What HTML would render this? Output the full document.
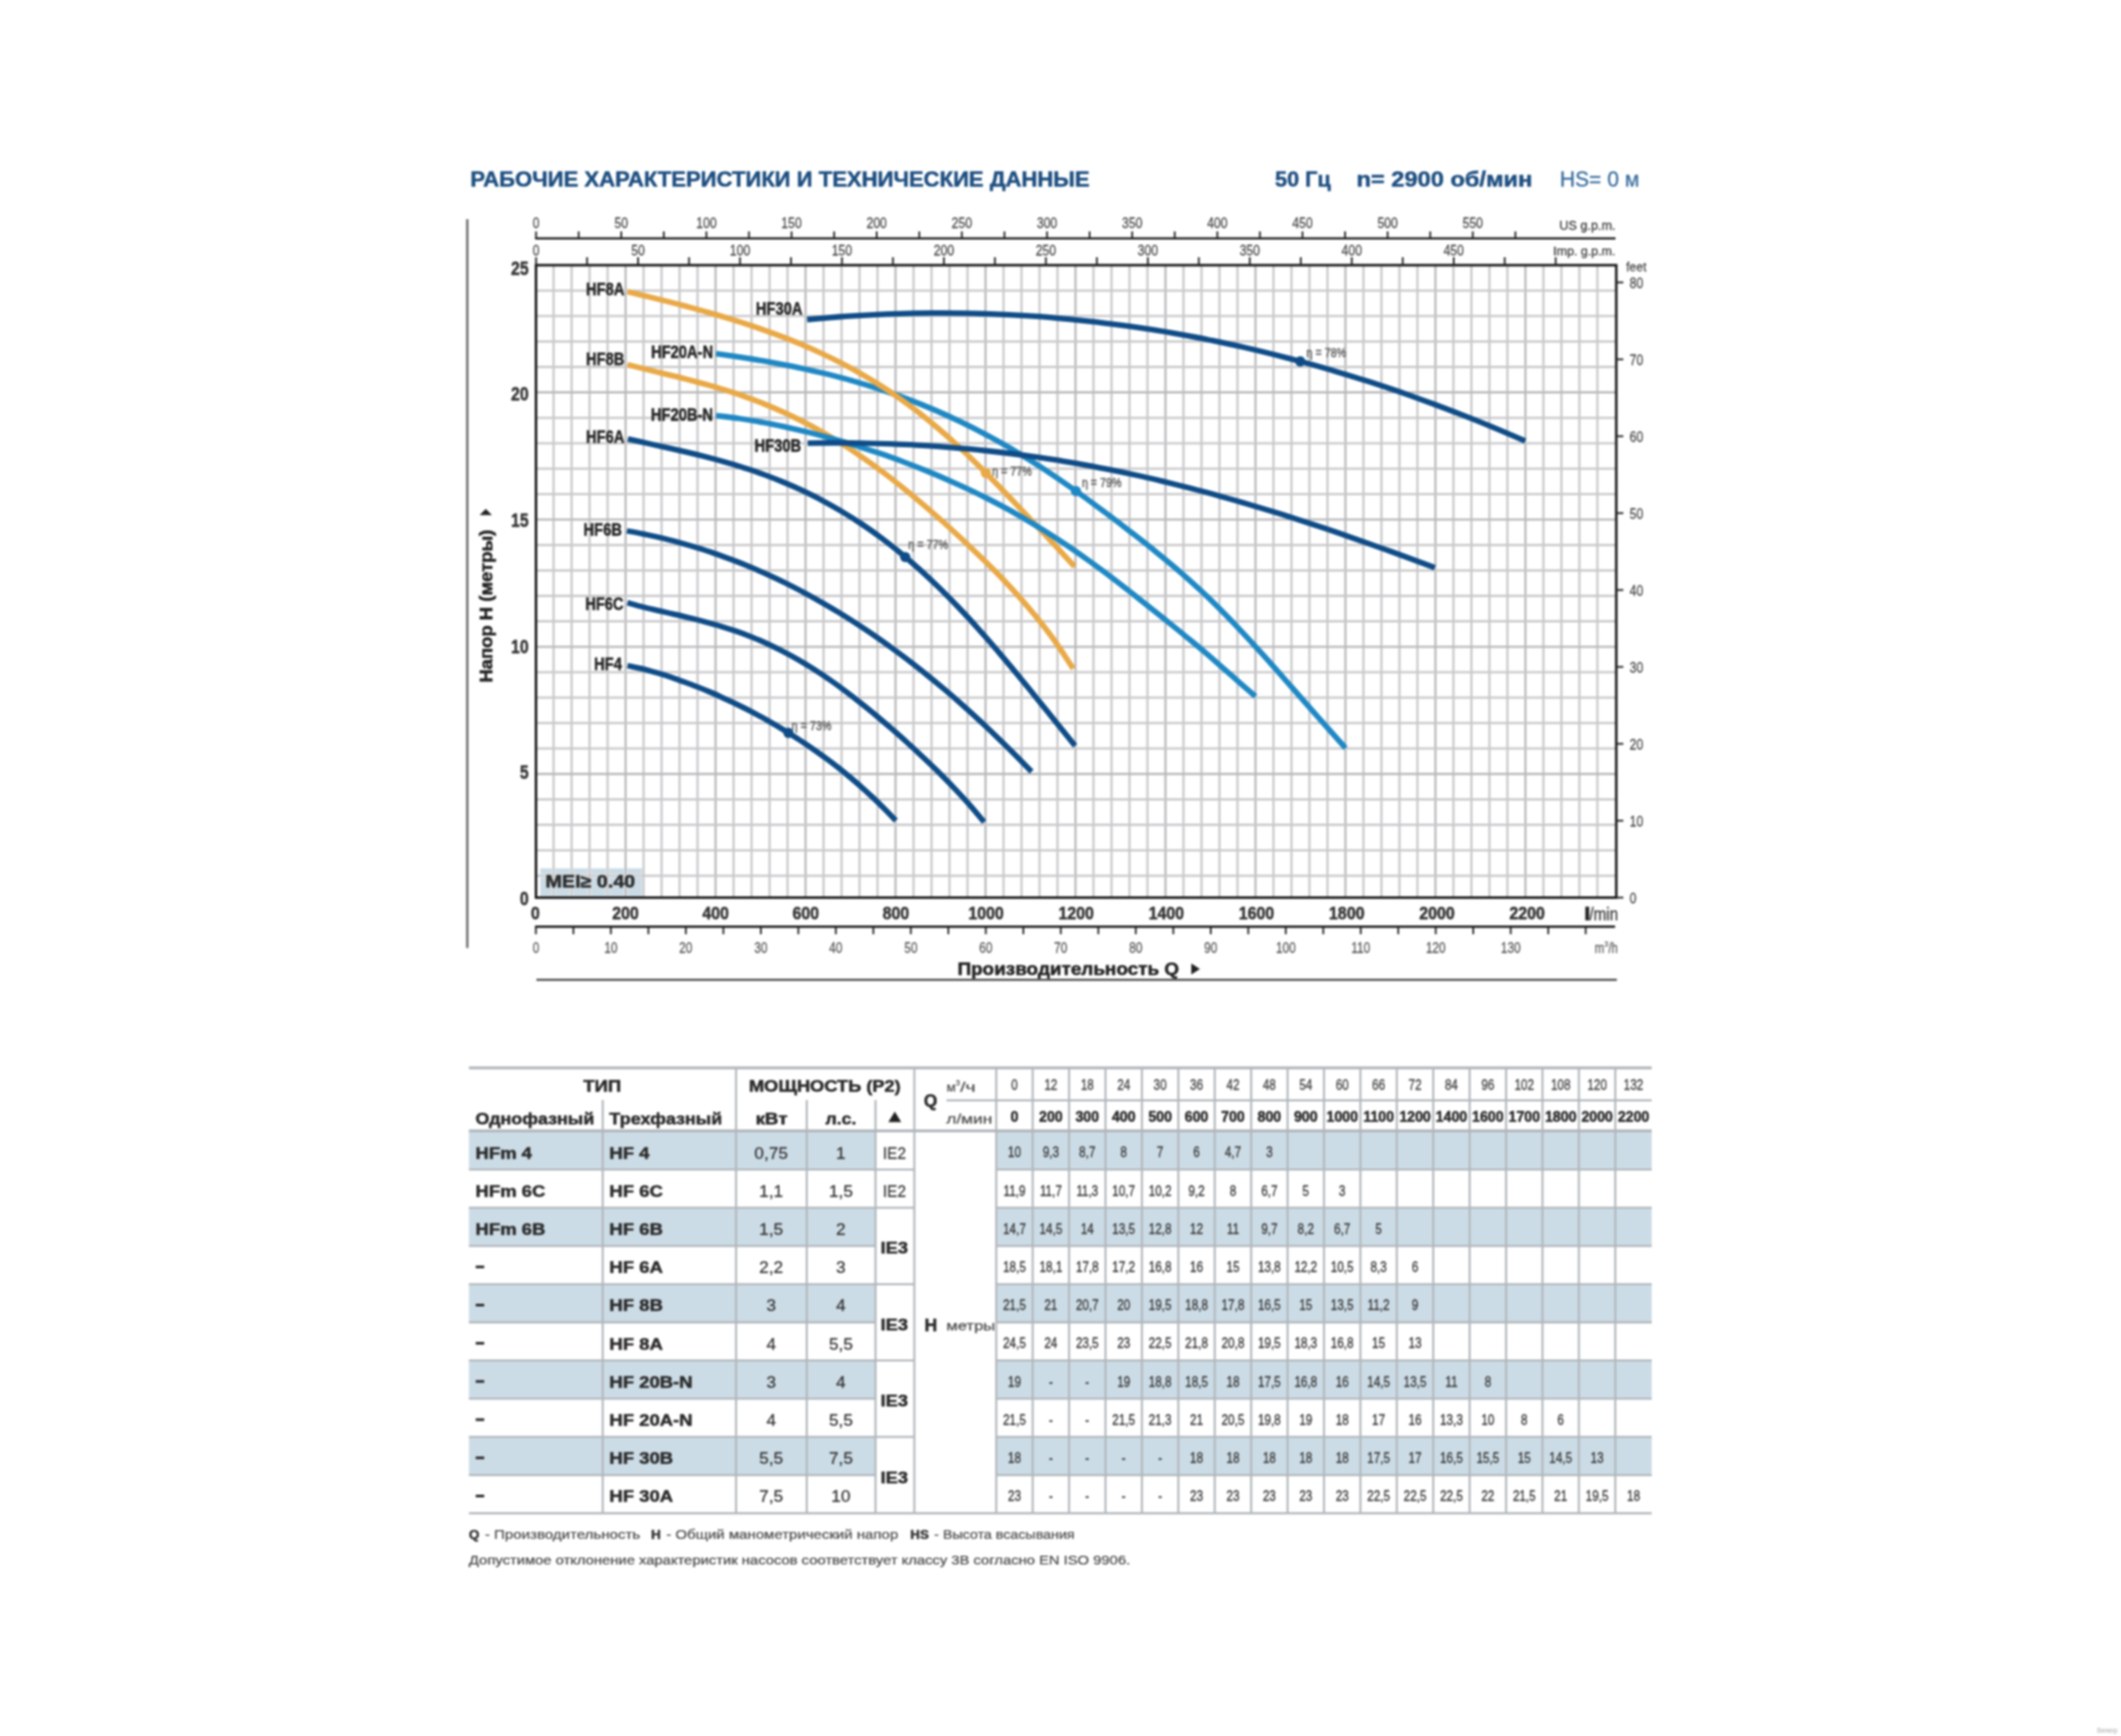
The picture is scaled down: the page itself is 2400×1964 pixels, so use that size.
<!DOCTYPE html>
<html lang="ru"><head><meta charset="utf-8"><title>HF</title>
<style>
html,body{margin:0;padding:0;background:#fff;}
body{width:2400px;height:1964px;overflow:hidden;}
svg{display:block;font-family:"Liberation Sans",sans-serif;}
</style></head><body>
<svg width="2400" height="1964" viewBox="0 0 2400 1964">
<defs><filter id="soft" x="0" y="0" width="4800" height="3928" filterUnits="userSpaceOnUse" color-interpolation-filters="sRGB"><feGaussianBlur stdDeviation="1.6"/></filter></defs>
<rect width="2400" height="1964" fill="#ffffff"/>
<g transform="scale(0.5)"><g filter="url(#soft)"><g transform="scale(2)">
<text transform="translate(532.30,211.20) scale(1.0768,1)" font-size="23.2" font-weight="bold" text-anchor="start" fill="#1d4e80" stroke="#1d4e80" stroke-width="0.55">РАБОЧИЕ ХАРАКТЕРИСТИКИ И ТЕХНИЧЕСКИЕ ДАННЫЕ</text>
<text transform="translate(1442.80,211.20) scale(1.0559,1)" font-size="23.2" font-weight="bold" text-anchor="start" fill="#1d4e80" stroke="#1d4e80" stroke-width="0.55">50 Гц</text>
<text transform="translate(1535.00,211.20) scale(1.1529,1)" font-size="23.2" font-weight="bold" text-anchor="start" fill="#1d4e80" stroke="#1d4e80" stroke-width="0.55">n= 2900 об/мин</text>
<text transform="translate(1765.00,211.20) scale(1.0283,1)" font-size="23.2" text-anchor="start" fill="#33689a" stroke="#33689a" stroke-width="0.25">HS= 0 м</text>
<rect x="611.30" y="982.40" width="117.00" height="32.00" fill="#cbdbe5"/>
<line x1="626.41" y1="300.00" x2="626.41" y2="1015.50" stroke="#f1f1f2" stroke-width="3.4"/>
<line x1="646.78" y1="300.00" x2="646.78" y2="1015.50" stroke="#f1f1f2" stroke-width="3.4"/>
<line x1="667.14" y1="300.00" x2="667.14" y2="1015.50" stroke="#f1f1f2" stroke-width="3.4"/>
<line x1="687.51" y1="300.00" x2="687.51" y2="1015.50" stroke="#f1f1f2" stroke-width="3.4"/>
<line x1="707.87" y1="300.00" x2="707.87" y2="1015.50" stroke="#f1f1f2" stroke-width="3.4"/>
<line x1="728.23" y1="300.00" x2="728.23" y2="1015.50" stroke="#f1f1f2" stroke-width="3.4"/>
<line x1="748.60" y1="300.00" x2="748.60" y2="1015.50" stroke="#f1f1f2" stroke-width="3.4"/>
<line x1="768.96" y1="300.00" x2="768.96" y2="1015.50" stroke="#f1f1f2" stroke-width="3.4"/>
<line x1="789.33" y1="300.00" x2="789.33" y2="1015.50" stroke="#f1f1f2" stroke-width="3.4"/>
<line x1="809.69" y1="300.00" x2="809.69" y2="1015.50" stroke="#f1f1f2" stroke-width="3.4"/>
<line x1="830.05" y1="300.00" x2="830.05" y2="1015.50" stroke="#f1f1f2" stroke-width="3.4"/>
<line x1="850.42" y1="300.00" x2="850.42" y2="1015.50" stroke="#f1f1f2" stroke-width="3.4"/>
<line x1="870.78" y1="300.00" x2="870.78" y2="1015.50" stroke="#f1f1f2" stroke-width="3.4"/>
<line x1="891.15" y1="300.00" x2="891.15" y2="1015.50" stroke="#f1f1f2" stroke-width="3.4"/>
<line x1="911.51" y1="300.00" x2="911.51" y2="1015.50" stroke="#f1f1f2" stroke-width="3.4"/>
<line x1="931.87" y1="300.00" x2="931.87" y2="1015.50" stroke="#f1f1f2" stroke-width="3.4"/>
<line x1="952.24" y1="300.00" x2="952.24" y2="1015.50" stroke="#f1f1f2" stroke-width="3.4"/>
<line x1="972.60" y1="300.00" x2="972.60" y2="1015.50" stroke="#f1f1f2" stroke-width="3.4"/>
<line x1="992.97" y1="300.00" x2="992.97" y2="1015.50" stroke="#f1f1f2" stroke-width="3.4"/>
<line x1="1013.33" y1="300.00" x2="1013.33" y2="1015.50" stroke="#f1f1f2" stroke-width="3.4"/>
<line x1="1033.69" y1="300.00" x2="1033.69" y2="1015.50" stroke="#f1f1f2" stroke-width="3.4"/>
<line x1="1054.06" y1="300.00" x2="1054.06" y2="1015.50" stroke="#f1f1f2" stroke-width="3.4"/>
<line x1="1074.42" y1="300.00" x2="1074.42" y2="1015.50" stroke="#f1f1f2" stroke-width="3.4"/>
<line x1="1094.79" y1="300.00" x2="1094.79" y2="1015.50" stroke="#f1f1f2" stroke-width="3.4"/>
<line x1="1115.15" y1="300.00" x2="1115.15" y2="1015.50" stroke="#f1f1f2" stroke-width="3.4"/>
<line x1="1135.51" y1="300.00" x2="1135.51" y2="1015.50" stroke="#f1f1f2" stroke-width="3.4"/>
<line x1="1155.88" y1="300.00" x2="1155.88" y2="1015.50" stroke="#f1f1f2" stroke-width="3.4"/>
<line x1="1176.24" y1="300.00" x2="1176.24" y2="1015.50" stroke="#f1f1f2" stroke-width="3.4"/>
<line x1="1196.61" y1="300.00" x2="1196.61" y2="1015.50" stroke="#f1f1f2" stroke-width="3.4"/>
<line x1="1216.97" y1="300.00" x2="1216.97" y2="1015.50" stroke="#f1f1f2" stroke-width="3.4"/>
<line x1="1237.33" y1="300.00" x2="1237.33" y2="1015.50" stroke="#f1f1f2" stroke-width="3.4"/>
<line x1="1257.70" y1="300.00" x2="1257.70" y2="1015.50" stroke="#f1f1f2" stroke-width="3.4"/>
<line x1="1278.06" y1="300.00" x2="1278.06" y2="1015.50" stroke="#f1f1f2" stroke-width="3.4"/>
<line x1="1298.43" y1="300.00" x2="1298.43" y2="1015.50" stroke="#f1f1f2" stroke-width="3.4"/>
<line x1="1318.79" y1="300.00" x2="1318.79" y2="1015.50" stroke="#f1f1f2" stroke-width="3.4"/>
<line x1="1339.15" y1="300.00" x2="1339.15" y2="1015.50" stroke="#f1f1f2" stroke-width="3.4"/>
<line x1="1359.52" y1="300.00" x2="1359.52" y2="1015.50" stroke="#f1f1f2" stroke-width="3.4"/>
<line x1="1379.88" y1="300.00" x2="1379.88" y2="1015.50" stroke="#f1f1f2" stroke-width="3.4"/>
<line x1="1400.25" y1="300.00" x2="1400.25" y2="1015.50" stroke="#f1f1f2" stroke-width="3.4"/>
<line x1="1420.61" y1="300.00" x2="1420.61" y2="1015.50" stroke="#f1f1f2" stroke-width="3.4"/>
<line x1="1440.97" y1="300.00" x2="1440.97" y2="1015.50" stroke="#f1f1f2" stroke-width="3.4"/>
<line x1="1461.34" y1="300.00" x2="1461.34" y2="1015.50" stroke="#f1f1f2" stroke-width="3.4"/>
<line x1="1481.70" y1="300.00" x2="1481.70" y2="1015.50" stroke="#f1f1f2" stroke-width="3.4"/>
<line x1="1502.07" y1="300.00" x2="1502.07" y2="1015.50" stroke="#f1f1f2" stroke-width="3.4"/>
<line x1="1522.43" y1="300.00" x2="1522.43" y2="1015.50" stroke="#f1f1f2" stroke-width="3.4"/>
<line x1="1542.79" y1="300.00" x2="1542.79" y2="1015.50" stroke="#f1f1f2" stroke-width="3.4"/>
<line x1="1563.16" y1="300.00" x2="1563.16" y2="1015.50" stroke="#f1f1f2" stroke-width="3.4"/>
<line x1="1583.52" y1="300.00" x2="1583.52" y2="1015.50" stroke="#f1f1f2" stroke-width="3.4"/>
<line x1="1603.89" y1="300.00" x2="1603.89" y2="1015.50" stroke="#f1f1f2" stroke-width="3.4"/>
<line x1="1624.25" y1="300.00" x2="1624.25" y2="1015.50" stroke="#f1f1f2" stroke-width="3.4"/>
<line x1="1644.61" y1="300.00" x2="1644.61" y2="1015.50" stroke="#f1f1f2" stroke-width="3.4"/>
<line x1="1664.98" y1="300.00" x2="1664.98" y2="1015.50" stroke="#f1f1f2" stroke-width="3.4"/>
<line x1="1685.34" y1="300.00" x2="1685.34" y2="1015.50" stroke="#f1f1f2" stroke-width="3.4"/>
<line x1="1705.71" y1="300.00" x2="1705.71" y2="1015.50" stroke="#f1f1f2" stroke-width="3.4"/>
<line x1="1726.07" y1="300.00" x2="1726.07" y2="1015.50" stroke="#f1f1f2" stroke-width="3.4"/>
<line x1="1746.43" y1="300.00" x2="1746.43" y2="1015.50" stroke="#f1f1f2" stroke-width="3.4"/>
<line x1="1766.80" y1="300.00" x2="1766.80" y2="1015.50" stroke="#f1f1f2" stroke-width="3.4"/>
<line x1="1787.16" y1="300.00" x2="1787.16" y2="1015.50" stroke="#f1f1f2" stroke-width="3.4"/>
<line x1="1807.53" y1="300.00" x2="1807.53" y2="1015.50" stroke="#f1f1f2" stroke-width="3.4"/>
<line x1="606.50" y1="990.72" x2="1828.90" y2="990.72" stroke="#f0f0f1" stroke-width="3.4"/>
<line x1="606.50" y1="961.94" x2="1828.90" y2="961.94" stroke="#f0f0f1" stroke-width="3.4"/>
<line x1="606.50" y1="933.16" x2="1828.90" y2="933.16" stroke="#f0f0f1" stroke-width="3.4"/>
<line x1="606.50" y1="904.38" x2="1828.90" y2="904.38" stroke="#f0f0f1" stroke-width="3.4"/>
<line x1="606.50" y1="875.60" x2="1828.90" y2="875.60" stroke="#f0f0f1" stroke-width="3.4"/>
<line x1="606.50" y1="846.82" x2="1828.90" y2="846.82" stroke="#f0f0f1" stroke-width="3.4"/>
<line x1="606.50" y1="818.04" x2="1828.90" y2="818.04" stroke="#f0f0f1" stroke-width="3.4"/>
<line x1="606.50" y1="789.26" x2="1828.90" y2="789.26" stroke="#f0f0f1" stroke-width="3.4"/>
<line x1="606.50" y1="760.48" x2="1828.90" y2="760.48" stroke="#f0f0f1" stroke-width="3.4"/>
<line x1="606.50" y1="731.70" x2="1828.90" y2="731.70" stroke="#f0f0f1" stroke-width="3.4"/>
<line x1="606.50" y1="702.92" x2="1828.90" y2="702.92" stroke="#f0f0f1" stroke-width="3.4"/>
<line x1="606.50" y1="674.14" x2="1828.90" y2="674.14" stroke="#f0f0f1" stroke-width="3.4"/>
<line x1="606.50" y1="645.36" x2="1828.90" y2="645.36" stroke="#f0f0f1" stroke-width="3.4"/>
<line x1="606.50" y1="616.58" x2="1828.90" y2="616.58" stroke="#f0f0f1" stroke-width="3.4"/>
<line x1="606.50" y1="587.80" x2="1828.90" y2="587.80" stroke="#f0f0f1" stroke-width="3.4"/>
<line x1="606.50" y1="559.02" x2="1828.90" y2="559.02" stroke="#f0f0f1" stroke-width="3.4"/>
<line x1="606.50" y1="530.24" x2="1828.90" y2="530.24" stroke="#f0f0f1" stroke-width="3.4"/>
<line x1="606.50" y1="501.46" x2="1828.90" y2="501.46" stroke="#f0f0f1" stroke-width="3.4"/>
<line x1="606.50" y1="472.68" x2="1828.90" y2="472.68" stroke="#f0f0f1" stroke-width="3.4"/>
<line x1="606.50" y1="443.90" x2="1828.90" y2="443.90" stroke="#f0f0f1" stroke-width="3.4"/>
<line x1="606.50" y1="415.12" x2="1828.90" y2="415.12" stroke="#f0f0f1" stroke-width="3.4"/>
<line x1="606.50" y1="386.34" x2="1828.90" y2="386.34" stroke="#f0f0f1" stroke-width="3.4"/>
<line x1="606.50" y1="357.56" x2="1828.90" y2="357.56" stroke="#f0f0f1" stroke-width="3.4"/>
<line x1="606.50" y1="328.78" x2="1828.90" y2="328.78" stroke="#f0f0f1" stroke-width="3.4"/>
<line x1="626.41" y1="300.00" x2="626.41" y2="1015.50" stroke="#c7c7c9" stroke-width="2.1"/>
<line x1="646.78" y1="300.00" x2="646.78" y2="1015.50" stroke="#c7c7c9" stroke-width="2.1"/>
<line x1="667.14" y1="300.00" x2="667.14" y2="1015.50" stroke="#c7c7c9" stroke-width="2.1"/>
<line x1="687.51" y1="300.00" x2="687.51" y2="1015.50" stroke="#c7c7c9" stroke-width="2.1"/>
<line x1="707.87" y1="300.00" x2="707.87" y2="1015.50" stroke="#b6b6b8" stroke-width="2.1"/>
<line x1="728.23" y1="300.00" x2="728.23" y2="1015.50" stroke="#c7c7c9" stroke-width="2.1"/>
<line x1="748.60" y1="300.00" x2="748.60" y2="1015.50" stroke="#c7c7c9" stroke-width="2.1"/>
<line x1="768.96" y1="300.00" x2="768.96" y2="1015.50" stroke="#c7c7c9" stroke-width="2.1"/>
<line x1="789.33" y1="300.00" x2="789.33" y2="1015.50" stroke="#c7c7c9" stroke-width="2.1"/>
<line x1="809.69" y1="300.00" x2="809.69" y2="1015.50" stroke="#b6b6b8" stroke-width="2.1"/>
<line x1="830.05" y1="300.00" x2="830.05" y2="1015.50" stroke="#c7c7c9" stroke-width="2.1"/>
<line x1="850.42" y1="300.00" x2="850.42" y2="1015.50" stroke="#c7c7c9" stroke-width="2.1"/>
<line x1="870.78" y1="300.00" x2="870.78" y2="1015.50" stroke="#c7c7c9" stroke-width="2.1"/>
<line x1="891.15" y1="300.00" x2="891.15" y2="1015.50" stroke="#c7c7c9" stroke-width="2.1"/>
<line x1="911.51" y1="300.00" x2="911.51" y2="1015.50" stroke="#b6b6b8" stroke-width="2.1"/>
<line x1="931.87" y1="300.00" x2="931.87" y2="1015.50" stroke="#c7c7c9" stroke-width="2.1"/>
<line x1="952.24" y1="300.00" x2="952.24" y2="1015.50" stroke="#c7c7c9" stroke-width="2.1"/>
<line x1="972.60" y1="300.00" x2="972.60" y2="1015.50" stroke="#c7c7c9" stroke-width="2.1"/>
<line x1="992.97" y1="300.00" x2="992.97" y2="1015.50" stroke="#c7c7c9" stroke-width="2.1"/>
<line x1="1013.33" y1="300.00" x2="1013.33" y2="1015.50" stroke="#b6b6b8" stroke-width="2.1"/>
<line x1="1033.69" y1="300.00" x2="1033.69" y2="1015.50" stroke="#c7c7c9" stroke-width="2.1"/>
<line x1="1054.06" y1="300.00" x2="1054.06" y2="1015.50" stroke="#c7c7c9" stroke-width="2.1"/>
<line x1="1074.42" y1="300.00" x2="1074.42" y2="1015.50" stroke="#c7c7c9" stroke-width="2.1"/>
<line x1="1094.79" y1="300.00" x2="1094.79" y2="1015.50" stroke="#c7c7c9" stroke-width="2.1"/>
<line x1="1115.15" y1="300.00" x2="1115.15" y2="1015.50" stroke="#b6b6b8" stroke-width="2.1"/>
<line x1="1135.51" y1="300.00" x2="1135.51" y2="1015.50" stroke="#c7c7c9" stroke-width="2.1"/>
<line x1="1155.88" y1="300.00" x2="1155.88" y2="1015.50" stroke="#c7c7c9" stroke-width="2.1"/>
<line x1="1176.24" y1="300.00" x2="1176.24" y2="1015.50" stroke="#c7c7c9" stroke-width="2.1"/>
<line x1="1196.61" y1="300.00" x2="1196.61" y2="1015.50" stroke="#c7c7c9" stroke-width="2.1"/>
<line x1="1216.97" y1="300.00" x2="1216.97" y2="1015.50" stroke="#b6b6b8" stroke-width="2.1"/>
<line x1="1237.33" y1="300.00" x2="1237.33" y2="1015.50" stroke="#c7c7c9" stroke-width="2.1"/>
<line x1="1257.70" y1="300.00" x2="1257.70" y2="1015.50" stroke="#c7c7c9" stroke-width="2.1"/>
<line x1="1278.06" y1="300.00" x2="1278.06" y2="1015.50" stroke="#c7c7c9" stroke-width="2.1"/>
<line x1="1298.43" y1="300.00" x2="1298.43" y2="1015.50" stroke="#c7c7c9" stroke-width="2.1"/>
<line x1="1318.79" y1="300.00" x2="1318.79" y2="1015.50" stroke="#b6b6b8" stroke-width="2.1"/>
<line x1="1339.15" y1="300.00" x2="1339.15" y2="1015.50" stroke="#c7c7c9" stroke-width="2.1"/>
<line x1="1359.52" y1="300.00" x2="1359.52" y2="1015.50" stroke="#c7c7c9" stroke-width="2.1"/>
<line x1="1379.88" y1="300.00" x2="1379.88" y2="1015.50" stroke="#c7c7c9" stroke-width="2.1"/>
<line x1="1400.25" y1="300.00" x2="1400.25" y2="1015.50" stroke="#c7c7c9" stroke-width="2.1"/>
<line x1="1420.61" y1="300.00" x2="1420.61" y2="1015.50" stroke="#b6b6b8" stroke-width="2.1"/>
<line x1="1440.97" y1="300.00" x2="1440.97" y2="1015.50" stroke="#c7c7c9" stroke-width="2.1"/>
<line x1="1461.34" y1="300.00" x2="1461.34" y2="1015.50" stroke="#c7c7c9" stroke-width="2.1"/>
<line x1="1481.70" y1="300.00" x2="1481.70" y2="1015.50" stroke="#c7c7c9" stroke-width="2.1"/>
<line x1="1502.07" y1="300.00" x2="1502.07" y2="1015.50" stroke="#c7c7c9" stroke-width="2.1"/>
<line x1="1522.43" y1="300.00" x2="1522.43" y2="1015.50" stroke="#b6b6b8" stroke-width="2.1"/>
<line x1="1542.79" y1="300.00" x2="1542.79" y2="1015.50" stroke="#c7c7c9" stroke-width="2.1"/>
<line x1="1563.16" y1="300.00" x2="1563.16" y2="1015.50" stroke="#c7c7c9" stroke-width="2.1"/>
<line x1="1583.52" y1="300.00" x2="1583.52" y2="1015.50" stroke="#c7c7c9" stroke-width="2.1"/>
<line x1="1603.89" y1="300.00" x2="1603.89" y2="1015.50" stroke="#c7c7c9" stroke-width="2.1"/>
<line x1="1624.25" y1="300.00" x2="1624.25" y2="1015.50" stroke="#b6b6b8" stroke-width="2.1"/>
<line x1="1644.61" y1="300.00" x2="1644.61" y2="1015.50" stroke="#c7c7c9" stroke-width="2.1"/>
<line x1="1664.98" y1="300.00" x2="1664.98" y2="1015.50" stroke="#c7c7c9" stroke-width="2.1"/>
<line x1="1685.34" y1="300.00" x2="1685.34" y2="1015.50" stroke="#c7c7c9" stroke-width="2.1"/>
<line x1="1705.71" y1="300.00" x2="1705.71" y2="1015.50" stroke="#c7c7c9" stroke-width="2.1"/>
<line x1="1726.07" y1="300.00" x2="1726.07" y2="1015.50" stroke="#b6b6b8" stroke-width="2.1"/>
<line x1="1746.43" y1="300.00" x2="1746.43" y2="1015.50" stroke="#c7c7c9" stroke-width="2.1"/>
<line x1="1766.80" y1="300.00" x2="1766.80" y2="1015.50" stroke="#c7c7c9" stroke-width="2.1"/>
<line x1="1787.16" y1="300.00" x2="1787.16" y2="1015.50" stroke="#c7c7c9" stroke-width="2.1"/>
<line x1="1807.53" y1="300.00" x2="1807.53" y2="1015.50" stroke="#c7c7c9" stroke-width="2.1"/>
<line x1="606.50" y1="990.72" x2="1828.90" y2="990.72" stroke="#c7c7c9" stroke-width="2.1"/>
<line x1="606.50" y1="961.94" x2="1828.90" y2="961.94" stroke="#c7c7c9" stroke-width="2.1"/>
<line x1="606.50" y1="933.16" x2="1828.90" y2="933.16" stroke="#c7c7c9" stroke-width="2.1"/>
<line x1="606.50" y1="904.38" x2="1828.90" y2="904.38" stroke="#c7c7c9" stroke-width="2.1"/>
<line x1="606.50" y1="875.60" x2="1828.90" y2="875.60" stroke="#b6b6b8" stroke-width="2.1"/>
<line x1="606.50" y1="846.82" x2="1828.90" y2="846.82" stroke="#c7c7c9" stroke-width="2.1"/>
<line x1="606.50" y1="818.04" x2="1828.90" y2="818.04" stroke="#c7c7c9" stroke-width="2.1"/>
<line x1="606.50" y1="789.26" x2="1828.90" y2="789.26" stroke="#c7c7c9" stroke-width="2.1"/>
<line x1="606.50" y1="760.48" x2="1828.90" y2="760.48" stroke="#c7c7c9" stroke-width="2.1"/>
<line x1="606.50" y1="731.70" x2="1828.90" y2="731.70" stroke="#b6b6b8" stroke-width="2.1"/>
<line x1="606.50" y1="702.92" x2="1828.90" y2="702.92" stroke="#c7c7c9" stroke-width="2.1"/>
<line x1="606.50" y1="674.14" x2="1828.90" y2="674.14" stroke="#c7c7c9" stroke-width="2.1"/>
<line x1="606.50" y1="645.36" x2="1828.90" y2="645.36" stroke="#c7c7c9" stroke-width="2.1"/>
<line x1="606.50" y1="616.58" x2="1828.90" y2="616.58" stroke="#c7c7c9" stroke-width="2.1"/>
<line x1="606.50" y1="587.80" x2="1828.90" y2="587.80" stroke="#b6b6b8" stroke-width="2.1"/>
<line x1="606.50" y1="559.02" x2="1828.90" y2="559.02" stroke="#c7c7c9" stroke-width="2.1"/>
<line x1="606.50" y1="530.24" x2="1828.90" y2="530.24" stroke="#c7c7c9" stroke-width="2.1"/>
<line x1="606.50" y1="501.46" x2="1828.90" y2="501.46" stroke="#c7c7c9" stroke-width="2.1"/>
<line x1="606.50" y1="472.68" x2="1828.90" y2="472.68" stroke="#c7c7c9" stroke-width="2.1"/>
<line x1="606.50" y1="443.90" x2="1828.90" y2="443.90" stroke="#b6b6b8" stroke-width="2.1"/>
<line x1="606.50" y1="415.12" x2="1828.90" y2="415.12" stroke="#c7c7c9" stroke-width="2.1"/>
<line x1="606.50" y1="386.34" x2="1828.90" y2="386.34" stroke="#c7c7c9" stroke-width="2.1"/>
<line x1="606.50" y1="357.56" x2="1828.90" y2="357.56" stroke="#c7c7c9" stroke-width="2.1"/>
<line x1="606.50" y1="328.78" x2="1828.90" y2="328.78" stroke="#c7c7c9" stroke-width="2.1"/>
<text transform="translate(617.30,1004.30) scale(1.1152,1)" font-size="20" font-weight="bold" text-anchor="start" fill="#2b2b2b" stroke="#2b2b2b" stroke-width="0.55">MEI≥ 0.40</text>
<path d="M810.2,400.2C815.4,400.9 830.9,403.1 841.2,404.7C851.5,406.3 861.8,407.9 872.1,409.8C882.4,411.7 892.8,413.6 903.1,415.8C913.4,418.0 923.8,420.3 934.1,422.8C944.4,425.3 954.8,428.1 965.1,431.0C975.4,433.9 985.7,437.1 996.0,440.5C1006.3,443.9 1016.7,447.6 1027.0,451.5C1037.3,455.4 1047.7,459.6 1058.0,464.0C1068.3,468.4 1078.7,473.2 1089.0,478.2C1099.3,483.2 1109.6,488.5 1119.9,494.1C1130.2,499.7 1140.6,505.5 1150.9,511.7C1161.2,517.9 1171.6,524.3 1181.9,531.1C1192.2,537.9 1202.6,545.0 1212.9,552.3C1223.2,559.6 1233.5,567.1 1243.8,574.8C1254.1,582.4 1264.5,590.2 1274.8,598.2C1285.1,606.2 1295.5,614.1 1305.8,622.5C1316.1,630.9 1326.5,639.3 1336.8,648.3C1347.1,657.3 1357.4,666.6 1367.7,676.5C1378.0,686.4 1388.4,697.0 1398.7,707.8C1409.0,718.6 1419.4,730.0 1429.7,741.4C1440.0,752.8 1450.4,764.7 1460.7,776.4C1471.0,788.1 1481.3,799.8 1491.6,811.5C1501.9,823.2 1517.4,840.6 1522.6,846.4" fill="none" stroke="#1f88c4" stroke-width="6.3"/>
<path d="M710.0,330.0C713.7,330.9 724.7,333.5 732.0,335.3C739.3,337.1 746.7,338.9 754.0,340.7C761.3,342.5 768.7,344.4 776.0,346.4C783.3,348.4 790.7,350.4 798.0,352.5C805.3,354.6 812.7,356.7 820.0,358.9C827.3,361.1 834.7,363.3 842.0,365.7C849.3,368.1 856.7,370.6 864.0,373.2C871.3,375.8 878.7,378.5 886.0,381.3C893.3,384.1 900.7,387.1 908.0,390.2C915.3,393.3 922.7,396.6 930.0,400.0C937.3,403.4 944.7,407.0 952.0,410.8C959.3,414.6 966.7,418.6 974.0,422.8C981.3,427.0 988.7,431.4 996.0,436.0C1003.3,440.6 1010.7,445.5 1018.0,450.7C1025.3,455.9 1032.7,461.3 1040.0,467.0C1047.3,472.7 1054.7,478.8 1062.0,485.0C1069.3,491.2 1076.7,497.8 1084.0,504.5C1091.3,511.2 1098.7,518.3 1106.0,525.5C1113.3,532.7 1120.7,540.2 1128.0,547.7C1135.3,555.2 1142.7,562.9 1150.0,570.6C1157.3,578.3 1164.7,586.0 1172.0,593.8C1179.3,601.6 1186.7,609.3 1194.0,617.2C1201.3,625.1 1212.3,637.0 1216.0,641.0" fill="none" stroke="#e9a947" stroke-width="6.3"/>
<path d="M710.0,412.5C713.6,413.4 724.6,416.2 731.9,418.0C739.2,419.8 746.6,421.6 753.9,423.4C761.2,425.2 768.5,426.9 775.8,428.8C783.1,430.7 790.4,432.6 797.7,434.6C805.0,436.7 812.4,438.8 819.7,441.1C827.0,443.4 834.3,445.7 841.6,448.3C848.9,450.9 856.2,453.6 863.5,456.5C870.8,459.4 878.2,462.6 885.5,465.9C892.8,469.2 900.1,472.7 907.4,476.4C914.7,480.1 922.0,484.1 929.3,488.2C936.6,492.3 944.0,496.6 951.3,501.2C958.6,505.8 965.9,510.6 973.2,515.6C980.5,520.6 987.9,525.9 995.2,531.3C1002.5,536.7 1009.8,542.3 1017.1,548.1C1024.4,553.9 1031.7,560.0 1039.0,566.1C1046.3,572.2 1053.7,578.6 1061.0,585.0C1068.3,591.4 1075.6,598.0 1082.9,604.7C1090.2,611.4 1097.5,618.4 1104.8,625.4C1112.1,632.4 1119.5,639.5 1126.8,647.0C1134.1,654.5 1141.4,662.1 1148.7,670.2C1156.0,678.3 1163.3,686.7 1170.6,695.6C1177.9,704.5 1185.3,713.8 1192.6,723.9C1199.9,734.0 1210.8,751.1 1214.5,756.5" fill="none" stroke="#e9a947" stroke-width="6.3"/>
<path d="M810.2,470.1C814.6,470.7 827.9,472.2 836.7,473.5C845.6,474.8 854.4,476.3 863.3,477.9C872.1,479.5 880.9,481.4 889.8,483.3C898.6,485.2 907.5,487.3 916.4,489.5C925.2,491.7 934.1,494.1 942.9,496.6C951.7,499.1 960.5,501.6 969.4,504.4C978.2,507.1 987.1,510.1 996.0,513.1C1004.9,516.1 1013.6,519.3 1022.5,522.6C1031.3,525.9 1040.2,529.4 1049.1,533.0C1057.9,536.6 1066.8,540.4 1075.6,544.3C1084.4,548.2 1093.2,552.2 1102.1,556.5C1110.9,560.8 1119.8,565.2 1128.7,569.9C1137.6,574.5 1146.4,579.3 1155.2,584.4C1164.0,589.5 1172.9,594.8 1181.7,600.3C1190.5,605.8 1199.5,611.6 1208.3,617.6C1217.1,623.6 1225.9,629.8 1234.8,636.2C1243.7,642.6 1252.6,649.2 1261.4,656.0C1270.2,662.8 1279.1,669.7 1287.9,676.7C1296.7,683.7 1305.6,690.7 1314.4,697.8C1323.2,704.9 1332.2,712.0 1341.0,719.3C1349.8,726.6 1358.7,733.8 1367.5,741.4C1376.3,749.0 1385.2,757.0 1394.1,764.7C1402.9,772.5 1416.2,784.0 1420.6,787.9" fill="none" stroke="#1f88c4" stroke-width="6.3"/>
<path d="M913.3,361.5C919.2,361.0 936.8,359.4 948.6,358.5C960.4,357.6 972.2,356.9 984.0,356.3C995.8,355.7 1007.5,355.2 1019.3,354.9C1031.1,354.5 1042.8,354.3 1054.6,354.2C1066.4,354.1 1078.1,354.2 1089.9,354.4C1101.7,354.6 1113.5,354.9 1125.3,355.4C1137.1,355.9 1148.8,356.5 1160.6,357.2C1172.4,357.9 1184.1,358.8 1195.9,359.8C1207.7,360.8 1219.4,362.0 1231.2,363.3C1243.0,364.6 1254.8,366.0 1266.6,367.6C1278.4,369.2 1290.1,370.9 1301.9,372.7C1313.7,374.5 1325.4,376.5 1337.2,378.6C1349.0,380.7 1360.7,383.0 1372.5,385.4C1384.3,387.8 1396.1,390.3 1407.9,393.0C1419.7,395.7 1431.4,398.5 1443.2,401.5C1455.0,404.5 1466.7,407.6 1478.5,410.8C1490.3,414.0 1502.0,417.4 1513.8,420.9C1525.6,424.4 1537.4,428.0 1549.2,431.8C1561.0,435.6 1572.7,439.5 1584.5,443.6C1596.3,447.7 1608.0,451.9 1619.8,456.2C1631.6,460.5 1643.3,465.0 1655.1,469.6C1666.9,474.2 1678.7,478.9 1690.5,483.8C1702.3,488.7 1719.9,496.3 1725.8,498.8" fill="none" stroke="#0f4c87" stroke-width="6.3"/>
<path d="M913.9,501.3C919.0,501.2 934.5,501.0 944.8,501.0C955.1,501.0 965.3,501.1 975.6,501.3C985.9,501.5 996.2,501.8 1006.5,502.2C1016.8,502.6 1027.0,503.0 1037.3,503.6C1047.6,504.2 1057.9,504.8 1068.2,505.6C1078.5,506.4 1088.7,507.2 1099.0,508.2C1109.3,509.2 1119.6,510.3 1129.9,511.5C1140.2,512.7 1150.4,514.0 1160.7,515.4C1171.0,516.8 1181.3,518.3 1191.6,519.9C1201.9,521.5 1212.1,523.3 1222.4,525.1C1232.7,526.9 1243.0,528.9 1253.3,530.9C1263.6,532.9 1273.8,535.0 1284.1,537.3C1294.4,539.5 1304.7,541.9 1315.0,544.4C1325.3,546.9 1335.5,549.4 1345.8,552.0C1356.1,554.6 1366.4,557.4 1376.7,560.2C1387.0,563.0 1397.2,566.0 1407.5,569.0C1417.8,572.0 1428.1,575.1 1438.4,578.2C1448.7,581.4 1458.9,584.6 1469.2,587.9C1479.5,591.2 1489.8,594.6 1500.1,598.1C1510.4,601.6 1520.6,605.1 1530.9,608.7C1541.2,612.3 1551.5,615.9 1561.8,619.6C1572.1,623.3 1582.3,627.0 1592.6,630.8C1602.9,634.6 1618.3,640.3 1623.5,642.2" fill="none" stroke="#0f4c87" stroke-width="6.3"/>
<path d="M710.4,496.6C714.1,497.4 725.1,499.9 732.4,501.5C739.7,503.1 747.1,504.8 754.4,506.4C761.7,508.0 769.1,509.7 776.4,511.4C783.7,513.1 791.1,514.9 798.4,516.8C805.7,518.7 813.1,520.7 820.4,522.8C827.7,524.9 835.1,527.0 842.4,529.4C849.7,531.8 857.1,534.2 864.4,536.9C871.7,539.6 879.1,542.5 886.4,545.5C893.7,548.5 901.1,551.8 908.4,555.2C915.7,558.7 923.1,562.3 930.4,566.2C937.7,570.1 945.0,574.2 952.4,578.6C959.8,583.0 967.1,587.6 974.5,592.5C981.9,597.4 989.2,602.5 996.5,608.0C1003.8,613.5 1011.2,619.2 1018.5,625.2C1025.8,631.2 1033.2,637.5 1040.5,644.1C1047.8,650.7 1055.2,657.6 1062.5,664.7C1069.8,671.9 1077.2,679.3 1084.5,687.0C1091.8,694.7 1099.2,702.6 1106.5,710.8C1113.8,719.0 1121.2,727.4 1128.5,736.0C1135.8,744.6 1143.2,753.3 1150.5,762.2C1157.8,771.1 1165.2,780.2 1172.5,789.2C1179.8,798.2 1187.2,807.4 1194.5,816.5C1201.8,825.6 1212.8,839.2 1216.5,843.7" fill="none" stroke="#0f4c87" stroke-width="6.3"/>
<path d="M709.4,600.6C712.7,601.2 722.7,603.0 729.3,604.4C735.9,605.8 742.6,607.2 749.2,608.8C755.8,610.4 762.5,612.2 769.1,614.0C775.7,615.8 782.4,617.7 789.0,619.7C795.6,621.7 802.2,623.9 808.9,626.2C815.5,628.5 822.2,631.0 828.9,633.5C835.5,636.0 842.2,638.6 848.8,641.4C855.4,644.2 862.1,647.1 868.7,650.1C875.3,653.1 882.0,656.2 888.6,659.5C895.2,662.8 901.9,666.2 908.5,669.7C915.1,673.2 921.8,676.9 928.4,680.7C935.0,684.5 941.7,688.4 948.3,692.4C954.9,696.4 961.6,700.6 968.2,704.9C974.8,709.2 981.5,713.6 988.1,718.2C994.7,722.8 1001.4,727.5 1008.0,732.3C1014.6,737.1 1021.3,742.0 1027.9,747.1C1034.5,752.2 1041.2,757.4 1047.8,762.8C1054.4,768.1 1061.1,773.6 1067.8,779.2C1074.5,784.8 1081.1,790.5 1087.7,796.4C1094.3,802.3 1101.0,808.3 1107.6,814.4C1114.2,820.5 1120.9,826.8 1127.5,833.2C1134.1,839.6 1140.8,846.1 1147.4,852.7C1154.0,859.3 1164.0,869.6 1167.3,873.0" fill="none" stroke="#0f4c87" stroke-width="6.3"/>
<path d="M710.0,681.9C712.9,682.7 721.6,685.2 727.5,686.7C733.4,688.2 739.2,689.5 745.1,690.9C751.0,692.3 756.8,693.5 762.6,694.9C768.5,696.2 774.4,697.6 780.2,699.0C786.1,700.4 791.9,701.9 797.7,703.5C803.6,705.1 809.4,706.6 815.3,708.4C821.1,710.2 826.9,712.1 832.8,714.1C838.6,716.1 844.5,718.3 850.4,720.6C856.2,722.9 862.0,725.4 867.9,728.1C873.8,730.8 879.6,733.7 885.5,736.7C891.4,739.7 897.1,742.8 903.0,746.2C908.9,749.6 914.8,753.2 920.6,756.9C926.5,760.6 932.2,764.5 938.1,768.5C944.0,772.5 949.9,776.8 955.7,781.2C961.6,785.6 967.4,790.1 973.2,794.7C979.1,799.3 984.9,804.1 990.8,809.0C996.6,813.9 1002.4,818.8 1008.3,823.9C1014.1,829.0 1020.1,834.2 1025.9,839.5C1031.8,844.8 1037.6,850.2 1043.4,855.7C1049.2,861.2 1055.2,866.8 1061.0,872.6C1066.8,878.4 1072.7,884.3 1078.5,890.4C1084.3,896.5 1090.2,902.8 1096.1,909.4C1101.9,916.0 1110.7,926.6 1113.6,930.0" fill="none" stroke="#0f4c87" stroke-width="6.3"/>
<path d="M710.0,753.0C712.2,753.5 718.8,754.9 723.2,755.9C727.6,756.9 732.0,758.1 736.4,759.3C740.8,760.5 745.2,761.8 749.6,763.1C754.0,764.5 758.4,765.9 762.8,767.4C767.2,768.9 771.6,770.5 776.0,772.1C780.4,773.7 784.8,775.4 789.2,777.1C793.6,778.8 798.0,780.6 802.4,782.5C806.8,784.4 811.2,786.3 815.6,788.3C820.0,790.3 824.4,792.3 828.8,794.4C833.2,796.5 837.6,798.7 842.0,800.9C846.4,803.1 850.8,805.4 855.2,807.8C859.6,810.1 864.1,812.5 868.5,815.0C872.9,817.5 877.3,820.1 881.7,822.7C886.1,825.3 890.5,828.0 894.9,830.8C899.3,833.6 903.7,836.4 908.1,839.3C912.5,842.2 916.9,845.2 921.3,848.3C925.7,851.4 930.1,854.5 934.5,857.8C938.9,861.0 943.3,864.3 947.7,867.8C952.1,871.2 956.5,874.8 960.9,878.5C965.3,882.2 969.7,885.9 974.1,889.8C978.5,893.7 982.9,897.8 987.3,901.9C991.7,906.0 996.1,910.3 1000.5,914.7C1004.9,919.1 1011.5,926.1 1013.7,928.4" fill="none" stroke="#0f4c87" stroke-width="6.3"/>
<circle cx="1471.3" cy="408.9" r="5.8" fill="#0f4c87"/>
<text transform="translate(1478.30,404.20) scale(0.8394,1)" font-size="14.5" text-anchor="start" fill="#5a5a5a" stroke="#5a5a5a" stroke-width="0.45">η = 78%</text>
<circle cx="1217.5" cy="555.6" r="5.8" fill="#1f88c4"/>
<text transform="translate(1224.20,551.40) scale(0.8394,1)" font-size="14.5" text-anchor="start" fill="#5a5a5a" stroke="#5a5a5a" stroke-width="0.45">η = 79%</text>
<circle cx="1115.6" cy="535.2" r="5.8" fill="#e9a947"/>
<text transform="translate(1122.70,537.80) scale(0.8394,1)" font-size="14.5" text-anchor="start" fill="#5a5a5a" stroke="#5a5a5a" stroke-width="0.45">η = 77%</text>
<circle cx="1024.3" cy="630.2" r="5.8" fill="#0f4c87"/>
<text transform="translate(1027.80,621.20) scale(0.8394,1)" font-size="14.5" text-anchor="start" fill="#5a5a5a" stroke="#5a5a5a" stroke-width="0.45">η = 77%</text>
<circle cx="892.1" cy="829.1" r="5.8" fill="#0f4c87"/>
<text transform="translate(895.80,825.90) scale(0.8394,1)" font-size="14.5" text-anchor="start" fill="#5a5a5a" stroke="#5a5a5a" stroke-width="0.45">η = 73%</text>
<text transform="translate(706.50,334.00) scale(0.8450,1)" font-size="19.7" font-weight="bold" text-anchor="end" fill="#262626" stroke="#262626" stroke-width="0.55">HF8A</text>
<text transform="translate(706.50,413.00) scale(0.8450,1)" font-size="19.7" font-weight="bold" text-anchor="end" fill="#262626" stroke="#262626" stroke-width="0.55">HF8B</text>
<text transform="translate(706.50,500.70) scale(0.8450,1)" font-size="19.7" font-weight="bold" text-anchor="end" fill="#262626" stroke="#262626" stroke-width="0.55">HF6A</text>
<text transform="translate(703.70,606.00) scale(0.8450,1)" font-size="19.7" font-weight="bold" text-anchor="end" fill="#262626" stroke="#262626" stroke-width="0.55">HF6B</text>
<text transform="translate(705.60,689.70) scale(0.8450,1)" font-size="19.7" font-weight="bold" text-anchor="end" fill="#262626" stroke="#262626" stroke-width="0.55">HF6C</text>
<text transform="translate(703.70,758.00) scale(0.8450,1)" font-size="19.7" font-weight="bold" text-anchor="end" fill="#262626" stroke="#262626" stroke-width="0.55">HF4</text>
<text transform="translate(806.90,405.30) scale(0.8450,1)" font-size="19.7" font-weight="bold" text-anchor="end" fill="#262626" stroke="#262626" stroke-width="0.55">HF20A-N</text>
<text transform="translate(806.70,476.00) scale(0.8450,1)" font-size="19.7" font-weight="bold" text-anchor="end" fill="#262626" stroke="#262626" stroke-width="0.55">HF20B-N</text>
<text transform="translate(908.00,356.00) scale(0.8450,1)" font-size="19.7" font-weight="bold" text-anchor="end" fill="#262626" stroke="#262626" stroke-width="0.55">HF30A</text>
<text transform="translate(906.50,510.70) scale(0.8450,1)" font-size="19.7" font-weight="bold" text-anchor="end" fill="#262626" stroke="#262626" stroke-width="0.55">HF30B</text>
<rect x="606.5" y="300.0" width="1222.4" height="715.5" fill="none" stroke="#151515" stroke-width="2.8"/>
<line x1="528.80" y1="248.00" x2="528.80" y2="1072.50" stroke="#6a6a6a" stroke-width="2.6"/>
<line x1="607.00" y1="1108.50" x2="1829.50" y2="1108.50" stroke="#2a2a2a" stroke-width="1.9"/>
<line x1="605.50" y1="269.80" x2="1828.00" y2="269.80" stroke="#222" stroke-width="2.5"/>
<line x1="606.60" y1="261.80" x2="606.60" y2="269.80" stroke="#222" stroke-width="2"/>
<line x1="654.78" y1="261.80" x2="654.78" y2="269.80" stroke="#222" stroke-width="2"/>
<line x1="702.96" y1="261.80" x2="702.96" y2="269.80" stroke="#222" stroke-width="2"/>
<line x1="751.14" y1="261.80" x2="751.14" y2="269.80" stroke="#222" stroke-width="2"/>
<line x1="799.32" y1="261.80" x2="799.32" y2="269.80" stroke="#222" stroke-width="2"/>
<line x1="847.49" y1="261.80" x2="847.49" y2="269.80" stroke="#222" stroke-width="2"/>
<line x1="895.67" y1="261.80" x2="895.67" y2="269.80" stroke="#222" stroke-width="2"/>
<line x1="943.85" y1="261.80" x2="943.85" y2="269.80" stroke="#222" stroke-width="2"/>
<line x1="992.03" y1="261.80" x2="992.03" y2="269.80" stroke="#222" stroke-width="2"/>
<line x1="1040.21" y1="261.80" x2="1040.21" y2="269.80" stroke="#222" stroke-width="2"/>
<line x1="1088.39" y1="261.80" x2="1088.39" y2="269.80" stroke="#222" stroke-width="2"/>
<line x1="1136.57" y1="261.80" x2="1136.57" y2="269.80" stroke="#222" stroke-width="2"/>
<line x1="1184.75" y1="261.80" x2="1184.75" y2="269.80" stroke="#222" stroke-width="2"/>
<line x1="1232.92" y1="261.80" x2="1232.92" y2="269.80" stroke="#222" stroke-width="2"/>
<line x1="1281.10" y1="261.80" x2="1281.10" y2="269.80" stroke="#222" stroke-width="2"/>
<line x1="1329.28" y1="261.80" x2="1329.28" y2="269.80" stroke="#222" stroke-width="2"/>
<line x1="1377.46" y1="261.80" x2="1377.46" y2="269.80" stroke="#222" stroke-width="2"/>
<line x1="1425.64" y1="261.80" x2="1425.64" y2="269.80" stroke="#222" stroke-width="2"/>
<line x1="1473.82" y1="261.80" x2="1473.82" y2="269.80" stroke="#222" stroke-width="2"/>
<line x1="1522.00" y1="261.80" x2="1522.00" y2="269.80" stroke="#222" stroke-width="2"/>
<line x1="1570.18" y1="261.80" x2="1570.18" y2="269.80" stroke="#222" stroke-width="2"/>
<line x1="1618.35" y1="261.80" x2="1618.35" y2="269.80" stroke="#222" stroke-width="2"/>
<line x1="1666.53" y1="261.80" x2="1666.53" y2="269.80" stroke="#222" stroke-width="2"/>
<line x1="1714.71" y1="261.80" x2="1714.71" y2="269.80" stroke="#222" stroke-width="2"/>
<text transform="translate(606.60,258.00) scale(0.8400,1)" font-size="16.5" text-anchor="middle" fill="#444" stroke="#444" stroke-width="0.25">0</text>
<text transform="translate(702.96,258.00) scale(0.8400,1)" font-size="16.5" text-anchor="middle" fill="#444" stroke="#444" stroke-width="0.25">50</text>
<text transform="translate(799.32,258.00) scale(0.8400,1)" font-size="16.5" text-anchor="middle" fill="#444" stroke="#444" stroke-width="0.25">100</text>
<text transform="translate(895.67,258.00) scale(0.8400,1)" font-size="16.5" text-anchor="middle" fill="#444" stroke="#444" stroke-width="0.25">150</text>
<text transform="translate(992.03,258.00) scale(0.8400,1)" font-size="16.5" text-anchor="middle" fill="#444" stroke="#444" stroke-width="0.25">200</text>
<text transform="translate(1088.39,258.00) scale(0.8400,1)" font-size="16.5" text-anchor="middle" fill="#444" stroke="#444" stroke-width="0.25">250</text>
<text transform="translate(1184.75,258.00) scale(0.8400,1)" font-size="16.5" text-anchor="middle" fill="#444" stroke="#444" stroke-width="0.25">300</text>
<text transform="translate(1281.10,258.00) scale(0.8400,1)" font-size="16.5" text-anchor="middle" fill="#444" stroke="#444" stroke-width="0.25">350</text>
<text transform="translate(1377.46,258.00) scale(0.8400,1)" font-size="16.5" text-anchor="middle" fill="#444" stroke="#444" stroke-width="0.25">400</text>
<text transform="translate(1473.82,258.00) scale(0.8400,1)" font-size="16.5" text-anchor="middle" fill="#444" stroke="#444" stroke-width="0.25">450</text>
<text transform="translate(1570.18,258.00) scale(0.8400,1)" font-size="16.5" text-anchor="middle" fill="#444" stroke="#444" stroke-width="0.25">500</text>
<text transform="translate(1666.53,258.00) scale(0.8400,1)" font-size="16.5" text-anchor="middle" fill="#444" stroke="#444" stroke-width="0.25">550</text>
<text transform="translate(1828.00,259.60) scale(0.9215,1)" font-size="15.5" text-anchor="end" fill="#333" stroke="#333" stroke-width="0.25">US g.p.m.</text>
<line x1="606.60" y1="291.00" x2="606.60" y2="300.00" stroke="#222" stroke-width="2"/>
<line x1="664.29" y1="291.00" x2="664.29" y2="300.00" stroke="#222" stroke-width="2"/>
<line x1="721.98" y1="291.00" x2="721.98" y2="300.00" stroke="#222" stroke-width="2"/>
<line x1="779.66" y1="291.00" x2="779.66" y2="300.00" stroke="#222" stroke-width="2"/>
<line x1="837.35" y1="291.00" x2="837.35" y2="300.00" stroke="#222" stroke-width="2"/>
<line x1="895.04" y1="291.00" x2="895.04" y2="300.00" stroke="#222" stroke-width="2"/>
<line x1="952.73" y1="291.00" x2="952.73" y2="300.00" stroke="#222" stroke-width="2"/>
<line x1="1010.41" y1="291.00" x2="1010.41" y2="300.00" stroke="#222" stroke-width="2"/>
<line x1="1068.10" y1="291.00" x2="1068.10" y2="300.00" stroke="#222" stroke-width="2"/>
<line x1="1125.79" y1="291.00" x2="1125.79" y2="300.00" stroke="#222" stroke-width="2"/>
<line x1="1183.47" y1="291.00" x2="1183.47" y2="300.00" stroke="#222" stroke-width="2"/>
<line x1="1241.16" y1="291.00" x2="1241.16" y2="300.00" stroke="#222" stroke-width="2"/>
<line x1="1298.85" y1="291.00" x2="1298.85" y2="300.00" stroke="#222" stroke-width="2"/>
<line x1="1356.54" y1="291.00" x2="1356.54" y2="300.00" stroke="#222" stroke-width="2"/>
<line x1="1414.22" y1="291.00" x2="1414.22" y2="300.00" stroke="#222" stroke-width="2"/>
<line x1="1471.91" y1="291.00" x2="1471.91" y2="300.00" stroke="#222" stroke-width="2"/>
<line x1="1529.60" y1="291.00" x2="1529.60" y2="300.00" stroke="#222" stroke-width="2"/>
<line x1="1587.29" y1="291.00" x2="1587.29" y2="300.00" stroke="#222" stroke-width="2"/>
<line x1="1644.97" y1="291.00" x2="1644.97" y2="300.00" stroke="#222" stroke-width="2"/>
<line x1="1702.66" y1="291.00" x2="1702.66" y2="300.00" stroke="#222" stroke-width="2"/>
<line x1="1760.35" y1="291.00" x2="1760.35" y2="300.00" stroke="#222" stroke-width="2"/>
<text transform="translate(606.60,288.80) scale(0.8400,1)" font-size="16.5" text-anchor="middle" fill="#444" stroke="#444" stroke-width="0.25">0</text>
<text transform="translate(721.98,288.80) scale(0.8400,1)" font-size="16.5" text-anchor="middle" fill="#444" stroke="#444" stroke-width="0.25">50</text>
<text transform="translate(837.35,288.80) scale(0.8400,1)" font-size="16.5" text-anchor="middle" fill="#444" stroke="#444" stroke-width="0.25">100</text>
<text transform="translate(952.73,288.80) scale(0.8400,1)" font-size="16.5" text-anchor="middle" fill="#444" stroke="#444" stroke-width="0.25">150</text>
<text transform="translate(1068.10,288.80) scale(0.8400,1)" font-size="16.5" text-anchor="middle" fill="#444" stroke="#444" stroke-width="0.25">200</text>
<text transform="translate(1183.47,288.80) scale(0.8400,1)" font-size="16.5" text-anchor="middle" fill="#444" stroke="#444" stroke-width="0.25">250</text>
<text transform="translate(1298.85,288.80) scale(0.8400,1)" font-size="16.5" text-anchor="middle" fill="#444" stroke="#444" stroke-width="0.25">300</text>
<text transform="translate(1414.22,288.80) scale(0.8400,1)" font-size="16.5" text-anchor="middle" fill="#444" stroke="#444" stroke-width="0.25">350</text>
<text transform="translate(1529.60,288.80) scale(0.8400,1)" font-size="16.5" text-anchor="middle" fill="#444" stroke="#444" stroke-width="0.25">400</text>
<text transform="translate(1644.97,288.80) scale(0.8400,1)" font-size="16.5" text-anchor="middle" fill="#444" stroke="#444" stroke-width="0.25">450</text>
<text transform="translate(1828.00,288.70) scale(0.9094,1)" font-size="15.5" text-anchor="end" fill="#333" stroke="#333" stroke-width="0.25">Imp. g.p.m.</text>
<text transform="translate(598.10,1023.70) scale(0.8300,1)" font-size="21.5" font-weight="bold" text-anchor="end" fill="#333" stroke="#333" stroke-width="0.55">0</text>
<text transform="translate(598.10,881.20) scale(0.8300,1)" font-size="21.5" font-weight="bold" text-anchor="end" fill="#333" stroke="#333" stroke-width="0.55">5</text>
<text transform="translate(598.10,738.60) scale(0.8300,1)" font-size="21.5" font-weight="bold" text-anchor="end" fill="#333" stroke="#333" stroke-width="0.55">10</text>
<text transform="translate(598.10,596.00) scale(0.8300,1)" font-size="21.5" font-weight="bold" text-anchor="end" fill="#333" stroke="#333" stroke-width="0.55">15</text>
<text transform="translate(598.10,453.40) scale(0.8300,1)" font-size="21.5" font-weight="bold" text-anchor="end" fill="#333" stroke="#333" stroke-width="0.55">20</text>
<text transform="translate(598.10,310.90) scale(0.8300,1)" font-size="21.5" font-weight="bold" text-anchor="end" fill="#333" stroke="#333" stroke-width="0.55">25</text>
<g transform="translate(556.7,772.3) rotate(-90)">
<text transform="translate(0.00,0.00) scale(1.0186,1)" font-size="20.5" font-weight="bold" text-anchor="start" fill="#222" stroke="#222" stroke-width="0.55">Напор H (метры)</text>
<path d="M189.6,-14 L196.6,-7 L189.6,0 Z" fill="#222"/>
</g>
<line x1="1828.90" y1="1015.50" x2="1836.90" y2="1015.50" stroke="#222" stroke-width="2"/>
<text transform="translate(1844.00,1021.70) scale(0.8400,1)" font-size="16.5" text-anchor="start" fill="#444" stroke="#444" stroke-width="0.25">0</text>
<line x1="1828.90" y1="928.50" x2="1836.90" y2="928.50" stroke="#222" stroke-width="2"/>
<text transform="translate(1844.00,934.70) scale(0.8400,1)" font-size="16.5" text-anchor="start" fill="#444" stroke="#444" stroke-width="0.25">10</text>
<line x1="1828.90" y1="841.50" x2="1836.90" y2="841.50" stroke="#222" stroke-width="2"/>
<text transform="translate(1844.00,847.70) scale(0.8400,1)" font-size="16.5" text-anchor="start" fill="#444" stroke="#444" stroke-width="0.25">20</text>
<line x1="1828.90" y1="754.50" x2="1836.90" y2="754.50" stroke="#222" stroke-width="2"/>
<text transform="translate(1844.00,760.70) scale(0.8400,1)" font-size="16.5" text-anchor="start" fill="#444" stroke="#444" stroke-width="0.25">30</text>
<line x1="1828.90" y1="667.50" x2="1836.90" y2="667.50" stroke="#222" stroke-width="2"/>
<text transform="translate(1844.00,673.70) scale(0.8400,1)" font-size="16.5" text-anchor="start" fill="#444" stroke="#444" stroke-width="0.25">40</text>
<line x1="1828.90" y1="580.50" x2="1836.90" y2="580.50" stroke="#222" stroke-width="2"/>
<text transform="translate(1844.00,586.70) scale(0.8400,1)" font-size="16.5" text-anchor="start" fill="#444" stroke="#444" stroke-width="0.25">50</text>
<line x1="1828.90" y1="493.50" x2="1836.90" y2="493.50" stroke="#222" stroke-width="2"/>
<text transform="translate(1844.00,499.70) scale(0.8400,1)" font-size="16.5" text-anchor="start" fill="#444" stroke="#444" stroke-width="0.25">60</text>
<line x1="1828.90" y1="406.50" x2="1836.90" y2="406.50" stroke="#222" stroke-width="2"/>
<text transform="translate(1844.00,412.70) scale(0.8400,1)" font-size="16.5" text-anchor="start" fill="#444" stroke="#444" stroke-width="0.25">70</text>
<line x1="1828.90" y1="319.50" x2="1836.90" y2="319.50" stroke="#222" stroke-width="2"/>
<text transform="translate(1844.00,325.70) scale(0.8400,1)" font-size="16.5" text-anchor="start" fill="#444" stroke="#444" stroke-width="0.25">80</text>
<text transform="translate(1840.00,307.10) scale(0.8896,1)" font-size="15.5" text-anchor="start" fill="#444" stroke="#444" stroke-width="0.25">feet</text>
<text transform="translate(605.70,1040.40) scale(0.9000,1)" font-size="20" font-weight="bold" text-anchor="middle" fill="#333" stroke="#333" stroke-width="0.55">0</text>
<text transform="translate(707.72,1040.40) scale(0.9000,1)" font-size="20" font-weight="bold" text-anchor="middle" fill="#333" stroke="#333" stroke-width="0.55">200</text>
<text transform="translate(809.74,1040.40) scale(0.9000,1)" font-size="20" font-weight="bold" text-anchor="middle" fill="#333" stroke="#333" stroke-width="0.55">400</text>
<text transform="translate(911.76,1040.40) scale(0.9000,1)" font-size="20" font-weight="bold" text-anchor="middle" fill="#333" stroke="#333" stroke-width="0.55">600</text>
<text transform="translate(1013.78,1040.40) scale(0.9000,1)" font-size="20" font-weight="bold" text-anchor="middle" fill="#333" stroke="#333" stroke-width="0.55">800</text>
<text transform="translate(1115.80,1040.40) scale(0.9000,1)" font-size="20" font-weight="bold" text-anchor="middle" fill="#333" stroke="#333" stroke-width="0.55">1000</text>
<text transform="translate(1217.82,1040.40) scale(0.9000,1)" font-size="20" font-weight="bold" text-anchor="middle" fill="#333" stroke="#333" stroke-width="0.55">1200</text>
<text transform="translate(1319.84,1040.40) scale(0.9000,1)" font-size="20" font-weight="bold" text-anchor="middle" fill="#333" stroke="#333" stroke-width="0.55">1400</text>
<text transform="translate(1421.86,1040.40) scale(0.9000,1)" font-size="20" font-weight="bold" text-anchor="middle" fill="#333" stroke="#333" stroke-width="0.55">1600</text>
<text transform="translate(1523.88,1040.40) scale(0.9000,1)" font-size="20" font-weight="bold" text-anchor="middle" fill="#333" stroke="#333" stroke-width="0.55">1800</text>
<text transform="translate(1625.90,1040.40) scale(0.9000,1)" font-size="20" font-weight="bold" text-anchor="middle" fill="#333" stroke="#333" stroke-width="0.55">2000</text>
<text transform="translate(1727.92,1040.40) scale(0.9000,1)" font-size="20" font-weight="bold" text-anchor="middle" fill="#333" stroke="#333" stroke-width="0.55">2200</text>
<text transform="translate(1792.30,1040.80) scale(1.3000,1)" font-size="21" font-weight="bold" text-anchor="start" fill="#222" stroke="#222" stroke-width="0.55">l</text>
<text transform="translate(1798.50,1040.80) scale(0.8601,1)" font-size="20" text-anchor="start" fill="#333" stroke="#333" stroke-width="0.25">/min</text>
<line x1="605.50" y1="1048.40" x2="1827.50" y2="1048.40" stroke="#222" stroke-width="2.7"/>
<line x1="606.40" y1="1048.40" x2="606.40" y2="1056.90" stroke="#222" stroke-width="2"/>
<line x1="648.82" y1="1048.40" x2="648.82" y2="1056.90" stroke="#222" stroke-width="2"/>
<line x1="691.25" y1="1048.40" x2="691.25" y2="1056.90" stroke="#222" stroke-width="2"/>
<line x1="733.67" y1="1048.40" x2="733.67" y2="1056.90" stroke="#222" stroke-width="2"/>
<line x1="776.10" y1="1048.40" x2="776.10" y2="1056.90" stroke="#222" stroke-width="2"/>
<line x1="818.52" y1="1048.40" x2="818.52" y2="1056.90" stroke="#222" stroke-width="2"/>
<line x1="860.95" y1="1048.40" x2="860.95" y2="1056.90" stroke="#222" stroke-width="2"/>
<line x1="903.38" y1="1048.40" x2="903.38" y2="1056.90" stroke="#222" stroke-width="2"/>
<line x1="945.80" y1="1048.40" x2="945.80" y2="1056.90" stroke="#222" stroke-width="2"/>
<line x1="988.23" y1="1048.40" x2="988.23" y2="1056.90" stroke="#222" stroke-width="2"/>
<line x1="1030.65" y1="1048.40" x2="1030.65" y2="1056.90" stroke="#222" stroke-width="2"/>
<line x1="1073.08" y1="1048.40" x2="1073.08" y2="1056.90" stroke="#222" stroke-width="2"/>
<line x1="1115.50" y1="1048.40" x2="1115.50" y2="1056.90" stroke="#222" stroke-width="2"/>
<line x1="1157.93" y1="1048.40" x2="1157.93" y2="1056.90" stroke="#222" stroke-width="2"/>
<line x1="1200.35" y1="1048.40" x2="1200.35" y2="1056.90" stroke="#222" stroke-width="2"/>
<line x1="1242.78" y1="1048.40" x2="1242.78" y2="1056.90" stroke="#222" stroke-width="2"/>
<line x1="1285.20" y1="1048.40" x2="1285.20" y2="1056.90" stroke="#222" stroke-width="2"/>
<line x1="1327.62" y1="1048.40" x2="1327.62" y2="1056.90" stroke="#222" stroke-width="2"/>
<line x1="1370.05" y1="1048.40" x2="1370.05" y2="1056.90" stroke="#222" stroke-width="2"/>
<line x1="1412.48" y1="1048.40" x2="1412.48" y2="1056.90" stroke="#222" stroke-width="2"/>
<line x1="1454.90" y1="1048.40" x2="1454.90" y2="1056.90" stroke="#222" stroke-width="2"/>
<line x1="1497.33" y1="1048.40" x2="1497.33" y2="1056.90" stroke="#222" stroke-width="2"/>
<line x1="1539.75" y1="1048.40" x2="1539.75" y2="1056.90" stroke="#222" stroke-width="2"/>
<line x1="1582.18" y1="1048.40" x2="1582.18" y2="1056.90" stroke="#222" stroke-width="2"/>
<line x1="1624.60" y1="1048.40" x2="1624.60" y2="1056.90" stroke="#222" stroke-width="2"/>
<line x1="1667.03" y1="1048.40" x2="1667.03" y2="1056.90" stroke="#222" stroke-width="2"/>
<line x1="1709.45" y1="1048.40" x2="1709.45" y2="1056.90" stroke="#222" stroke-width="2"/>
<line x1="1751.88" y1="1048.40" x2="1751.88" y2="1056.90" stroke="#222" stroke-width="2"/>
<line x1="1794.30" y1="1048.40" x2="1794.30" y2="1056.90" stroke="#222" stroke-width="2"/>
<text transform="translate(606.40,1077.60) scale(0.8400,1)" font-size="16" text-anchor="middle" fill="#555" stroke="#555" stroke-width="0.25">0</text>
<text transform="translate(691.25,1077.60) scale(0.8400,1)" font-size="16" text-anchor="middle" fill="#555" stroke="#555" stroke-width="0.25">10</text>
<text transform="translate(776.10,1077.60) scale(0.8400,1)" font-size="16" text-anchor="middle" fill="#555" stroke="#555" stroke-width="0.25">20</text>
<text transform="translate(860.95,1077.60) scale(0.8400,1)" font-size="16" text-anchor="middle" fill="#555" stroke="#555" stroke-width="0.25">30</text>
<text transform="translate(945.80,1077.60) scale(0.8400,1)" font-size="16" text-anchor="middle" fill="#555" stroke="#555" stroke-width="0.25">40</text>
<text transform="translate(1030.65,1077.60) scale(0.8400,1)" font-size="16" text-anchor="middle" fill="#555" stroke="#555" stroke-width="0.25">50</text>
<text transform="translate(1115.50,1077.60) scale(0.8400,1)" font-size="16" text-anchor="middle" fill="#555" stroke="#555" stroke-width="0.25">60</text>
<text transform="translate(1200.35,1077.60) scale(0.8400,1)" font-size="16" text-anchor="middle" fill="#555" stroke="#555" stroke-width="0.25">70</text>
<text transform="translate(1285.20,1077.60) scale(0.8400,1)" font-size="16" text-anchor="middle" fill="#555" stroke="#555" stroke-width="0.25">80</text>
<text transform="translate(1370.05,1077.60) scale(0.8400,1)" font-size="16" text-anchor="middle" fill="#555" stroke="#555" stroke-width="0.25">90</text>
<text transform="translate(1454.90,1077.60) scale(0.8400,1)" font-size="16" text-anchor="middle" fill="#555" stroke="#555" stroke-width="0.25">100</text>
<text transform="translate(1539.75,1077.60) scale(0.8400,1)" font-size="16" text-anchor="middle" fill="#555" stroke="#555" stroke-width="0.25">110</text>
<text transform="translate(1624.60,1077.60) scale(0.8400,1)" font-size="16" text-anchor="middle" fill="#555" stroke="#555" stroke-width="0.25">120</text>
<text transform="translate(1709.45,1077.60) scale(0.8400,1)" font-size="16" text-anchor="middle" fill="#555" stroke="#555" stroke-width="0.25">130</text>
<text transform="translate(1804.60,1077.60) scale(0.8000,1)" font-size="16" text-anchor="start" fill="#555" stroke="#555" stroke-width="0.25">m</text>
<text transform="translate(1815.60,1070.50) scale(0.8500,1)" font-size="9" text-anchor="start" fill="#555" stroke="#555" stroke-width="0.25">3</text>
<text transform="translate(1820.00,1077.60) scale(0.8000,1)" font-size="16" text-anchor="start" fill="#555" stroke="#555" stroke-width="0.25">/h</text>
<text transform="translate(1083.40,1102.60) scale(1.0821,1)" font-size="19.8" font-weight="bold" text-anchor="start" fill="#222" stroke="#222" stroke-width="0.55">Производительность Q</text>
<path d="M1348,1090 L1357.8,1096.2 L1348,1102.5 Z" fill="#222"/>
<rect x="530.60" y="1280.00" width="460.10" height="43.20" fill="#ccdce6"/>
<rect x="1127.30" y="1280.00" width="741.70" height="43.20" fill="#ccdce6"/>
<rect x="530.60" y="1366.40" width="460.10" height="43.20" fill="#ccdce6"/>
<rect x="1127.30" y="1366.40" width="741.70" height="43.20" fill="#ccdce6"/>
<rect x="530.60" y="1452.80" width="460.10" height="43.20" fill="#ccdce6"/>
<rect x="1127.30" y="1452.80" width="741.70" height="43.20" fill="#ccdce6"/>
<rect x="530.60" y="1539.20" width="460.10" height="43.20" fill="#ccdce6"/>
<rect x="1127.30" y="1539.20" width="741.70" height="43.20" fill="#ccdce6"/>
<rect x="530.60" y="1625.60" width="460.10" height="43.20" fill="#ccdce6"/>
<rect x="1127.30" y="1625.60" width="741.70" height="43.20" fill="#ccdce6"/>
<line x1="530.60" y1="1208.20" x2="1869.00" y2="1208.20" stroke="#b1b6bb" stroke-width="3.2"/>
<line x1="1071.00" y1="1244.80" x2="1869.00" y2="1244.80" stroke="#b0b5b9" stroke-width="2.2"/>
<line x1="530.60" y1="1279.40" x2="1869.00" y2="1279.40" stroke="#b1b6bb" stroke-width="3.2"/>
<line x1="530.60" y1="1323.20" x2="990.70" y2="1323.20" stroke="#b1b6bb" stroke-width="2.3"/>
<line x1="1127.30" y1="1323.20" x2="1869.00" y2="1323.20" stroke="#b1b6bb" stroke-width="2.3"/>
<line x1="530.60" y1="1366.40" x2="990.70" y2="1366.40" stroke="#b1b6bb" stroke-width="2.3"/>
<line x1="1127.30" y1="1366.40" x2="1869.00" y2="1366.40" stroke="#b1b6bb" stroke-width="2.3"/>
<line x1="530.60" y1="1409.60" x2="990.70" y2="1409.60" stroke="#b1b6bb" stroke-width="2.3"/>
<line x1="1127.30" y1="1409.60" x2="1869.00" y2="1409.60" stroke="#b1b6bb" stroke-width="2.3"/>
<line x1="530.60" y1="1452.80" x2="990.70" y2="1452.80" stroke="#b1b6bb" stroke-width="2.3"/>
<line x1="1127.30" y1="1452.80" x2="1869.00" y2="1452.80" stroke="#b1b6bb" stroke-width="2.3"/>
<line x1="530.60" y1="1496.00" x2="990.70" y2="1496.00" stroke="#b1b6bb" stroke-width="2.3"/>
<line x1="1127.30" y1="1496.00" x2="1869.00" y2="1496.00" stroke="#b1b6bb" stroke-width="2.3"/>
<line x1="530.60" y1="1539.20" x2="990.70" y2="1539.20" stroke="#b1b6bb" stroke-width="2.3"/>
<line x1="1127.30" y1="1539.20" x2="1869.00" y2="1539.20" stroke="#b1b6bb" stroke-width="2.3"/>
<line x1="530.60" y1="1582.40" x2="990.70" y2="1582.40" stroke="#b1b6bb" stroke-width="2.3"/>
<line x1="1127.30" y1="1582.40" x2="1869.00" y2="1582.40" stroke="#b1b6bb" stroke-width="2.3"/>
<line x1="530.60" y1="1625.60" x2="990.70" y2="1625.60" stroke="#b1b6bb" stroke-width="2.3"/>
<line x1="1127.30" y1="1625.60" x2="1869.00" y2="1625.60" stroke="#b1b6bb" stroke-width="2.3"/>
<line x1="530.60" y1="1668.80" x2="990.70" y2="1668.80" stroke="#b1b6bb" stroke-width="2.3"/>
<line x1="1127.30" y1="1668.80" x2="1869.00" y2="1668.80" stroke="#b1b6bb" stroke-width="2.3"/>
<line x1="990.70" y1="1323.20" x2="1034.60" y2="1323.20" stroke="#b1b6bb" stroke-width="2.3"/>
<line x1="990.70" y1="1366.40" x2="1034.60" y2="1366.40" stroke="#b1b6bb" stroke-width="2.3"/>
<line x1="990.70" y1="1452.80" x2="1034.60" y2="1452.80" stroke="#b1b6bb" stroke-width="2.3"/>
<line x1="990.70" y1="1539.20" x2="1034.60" y2="1539.20" stroke="#b1b6bb" stroke-width="2.3"/>
<line x1="990.70" y1="1625.60" x2="1034.60" y2="1625.60" stroke="#b1b6bb" stroke-width="2.3"/>
<line x1="530.60" y1="1712.00" x2="1869.00" y2="1712.00" stroke="#b1b6bb" stroke-width="2.3"/>
<line x1="682.00" y1="1244.40" x2="682.00" y2="1712.00" stroke="#b1b6bb" stroke-width="2.3"/>
<line x1="832.90" y1="1208.60" x2="832.90" y2="1712.00" stroke="#b1b6bb" stroke-width="2.3"/>
<line x1="912.90" y1="1244.40" x2="912.90" y2="1712.00" stroke="#b1b6bb" stroke-width="2.3"/>
<line x1="990.70" y1="1244.40" x2="990.70" y2="1712.00" stroke="#b1b6bb" stroke-width="2.3"/>
<line x1="1034.60" y1="1208.60" x2="1034.60" y2="1712.00" stroke="#b1b6bb" stroke-width="2.3"/>
<line x1="1127.30" y1="1208.60" x2="1127.30" y2="1712.00" stroke="#b1b6bb" stroke-width="2.3"/>
<line x1="1168.51" y1="1208.60" x2="1168.51" y2="1712.00" stroke="#b1b6bb" stroke-width="2.3"/>
<line x1="1209.71" y1="1208.60" x2="1209.71" y2="1712.00" stroke="#b1b6bb" stroke-width="2.3"/>
<line x1="1250.92" y1="1208.60" x2="1250.92" y2="1712.00" stroke="#b1b6bb" stroke-width="2.3"/>
<line x1="1292.12" y1="1208.60" x2="1292.12" y2="1712.00" stroke="#b1b6bb" stroke-width="2.3"/>
<line x1="1333.33" y1="1208.60" x2="1333.33" y2="1712.00" stroke="#b1b6bb" stroke-width="2.3"/>
<line x1="1374.53" y1="1208.60" x2="1374.53" y2="1712.00" stroke="#b1b6bb" stroke-width="2.3"/>
<line x1="1415.74" y1="1208.60" x2="1415.74" y2="1712.00" stroke="#b1b6bb" stroke-width="2.3"/>
<line x1="1456.94" y1="1208.60" x2="1456.94" y2="1712.00" stroke="#b1b6bb" stroke-width="2.3"/>
<line x1="1498.15" y1="1208.60" x2="1498.15" y2="1712.00" stroke="#b1b6bb" stroke-width="2.3"/>
<line x1="1539.36" y1="1208.60" x2="1539.36" y2="1712.00" stroke="#b1b6bb" stroke-width="2.3"/>
<line x1="1580.56" y1="1208.60" x2="1580.56" y2="1712.00" stroke="#b1b6bb" stroke-width="2.3"/>
<line x1="1621.77" y1="1208.60" x2="1621.77" y2="1712.00" stroke="#b1b6bb" stroke-width="2.3"/>
<line x1="1662.97" y1="1208.60" x2="1662.97" y2="1712.00" stroke="#b1b6bb" stroke-width="2.3"/>
<line x1="1704.18" y1="1208.60" x2="1704.18" y2="1712.00" stroke="#b1b6bb" stroke-width="2.3"/>
<line x1="1745.38" y1="1208.60" x2="1745.38" y2="1712.00" stroke="#b1b6bb" stroke-width="2.3"/>
<line x1="1786.59" y1="1208.60" x2="1786.59" y2="1712.00" stroke="#b1b6bb" stroke-width="2.3"/>
<line x1="1827.79" y1="1208.60" x2="1827.79" y2="1712.00" stroke="#b1b6bb" stroke-width="2.3"/>
<text transform="translate(681.40,1235.30) scale(1.1049,1)" font-size="19" font-weight="bold" text-anchor="middle" fill="#2a2a2a" stroke="#2a2a2a" stroke-width="0.55">ТИП</text>
<text transform="translate(847.40,1235.30) scale(1.0875,1)" font-size="19" font-weight="bold" text-anchor="start" fill="#2a2a2a" stroke="#2a2a2a" stroke-width="0.55">МОЩНОСТЬ (P2)</text>
<text transform="translate(538.10,1271.50) scale(1.0684,1)" font-size="19" font-weight="bold" text-anchor="start" fill="#2a2a2a" stroke="#2a2a2a" stroke-width="0.55">Однофазный</text>
<text transform="translate(689.60,1271.50) scale(1.0689,1)" font-size="19" font-weight="bold" text-anchor="start" fill="#2a2a2a" stroke="#2a2a2a" stroke-width="0.55">Трехфазный</text>
<text transform="translate(873.00,1271.50) scale(1.1151,1)" font-size="19" font-weight="bold" text-anchor="middle" fill="#2a2a2a" stroke="#2a2a2a" stroke-width="0.55">кВт</text>
<text transform="translate(951.50,1271.50) scale(1.0544,1)" font-size="19" font-weight="bold" text-anchor="middle" fill="#2a2a2a" stroke="#2a2a2a" stroke-width="0.55">л.с.</text>
<path d="M1005.2,1269.5 L1012.5,1257.5 L1019.8,1269.5 Z" fill="#222"/>
<text transform="translate(1052.90,1252.40) scale(1.0000,1)" font-size="19.8" font-weight="bold" text-anchor="middle" fill="#2a2a2a" stroke="#2a2a2a" stroke-width="0.55">Q</text>
<text transform="translate(1071.00,1234.60) scale(0.9800,1)" font-size="15.5" text-anchor="start" fill="#4a4a4a" stroke="#4a4a4a" stroke-width="0.25">м</text>
<text transform="translate(1081.60,1227.60) scale(0.9000,1)" font-size="9.5" text-anchor="start" fill="#4a4a4a" stroke="#4a4a4a" stroke-width="0.25">3</text>
<text transform="translate(1086.40,1234.60) scale(1.3972,1)" font-size="15.5" text-anchor="start" fill="#4a4a4a" stroke="#4a4a4a" stroke-width="0.25">/ч</text>
<text transform="translate(1070.70,1271.30) scale(1.2662,1)" font-size="15.5" text-anchor="start" fill="#4a4a4a" stroke="#4a4a4a" stroke-width="0.25">л/мин</text>
<text transform="translate(1053.20,1505.50) scale(1.0000,1)" font-size="20" font-weight="bold" text-anchor="middle" fill="#2a2a2a" stroke="#2a2a2a" stroke-width="0.55">H</text>
<text transform="translate(1070.70,1504.50) scale(1.2165,1)" font-size="15.5" text-anchor="start" fill="#4a4a4a" stroke="#4a4a4a" stroke-width="0.25">метры</text>
<text transform="translate(1147.90,1233.40) scale(0.7800,1)" font-size="17" text-anchor="middle" fill="#444" stroke="#444" stroke-width="0.4">0</text>
<text transform="translate(1147.90,1269.30) scale(0.9400,1)" font-size="17" font-weight="bold" text-anchor="middle" fill="#2a2a2a" stroke="#2a2a2a" stroke-width="0.55">0</text>
<text transform="translate(1189.11,1233.40) scale(0.7800,1)" font-size="17" text-anchor="middle" fill="#444" stroke="#444" stroke-width="0.4">12</text>
<text transform="translate(1189.11,1269.30) scale(0.9400,1)" font-size="17" font-weight="bold" text-anchor="middle" fill="#2a2a2a" stroke="#2a2a2a" stroke-width="0.55">200</text>
<text transform="translate(1230.31,1233.40) scale(0.7800,1)" font-size="17" text-anchor="middle" fill="#444" stroke="#444" stroke-width="0.4">18</text>
<text transform="translate(1230.31,1269.30) scale(0.9400,1)" font-size="17" font-weight="bold" text-anchor="middle" fill="#2a2a2a" stroke="#2a2a2a" stroke-width="0.55">300</text>
<text transform="translate(1271.52,1233.40) scale(0.7800,1)" font-size="17" text-anchor="middle" fill="#444" stroke="#444" stroke-width="0.4">24</text>
<text transform="translate(1271.52,1269.30) scale(0.9400,1)" font-size="17" font-weight="bold" text-anchor="middle" fill="#2a2a2a" stroke="#2a2a2a" stroke-width="0.55">400</text>
<text transform="translate(1312.72,1233.40) scale(0.7800,1)" font-size="17" text-anchor="middle" fill="#444" stroke="#444" stroke-width="0.4">30</text>
<text transform="translate(1312.72,1269.30) scale(0.9400,1)" font-size="17" font-weight="bold" text-anchor="middle" fill="#2a2a2a" stroke="#2a2a2a" stroke-width="0.55">500</text>
<text transform="translate(1353.93,1233.40) scale(0.7800,1)" font-size="17" text-anchor="middle" fill="#444" stroke="#444" stroke-width="0.4">36</text>
<text transform="translate(1353.93,1269.30) scale(0.9400,1)" font-size="17" font-weight="bold" text-anchor="middle" fill="#2a2a2a" stroke="#2a2a2a" stroke-width="0.55">600</text>
<text transform="translate(1395.14,1233.40) scale(0.7800,1)" font-size="17" text-anchor="middle" fill="#444" stroke="#444" stroke-width="0.4">42</text>
<text transform="translate(1395.14,1269.30) scale(0.9400,1)" font-size="17" font-weight="bold" text-anchor="middle" fill="#2a2a2a" stroke="#2a2a2a" stroke-width="0.55">700</text>
<text transform="translate(1436.34,1233.40) scale(0.7800,1)" font-size="17" text-anchor="middle" fill="#444" stroke="#444" stroke-width="0.4">48</text>
<text transform="translate(1436.34,1269.30) scale(0.9400,1)" font-size="17" font-weight="bold" text-anchor="middle" fill="#2a2a2a" stroke="#2a2a2a" stroke-width="0.55">800</text>
<text transform="translate(1477.55,1233.40) scale(0.7800,1)" font-size="17" text-anchor="middle" fill="#444" stroke="#444" stroke-width="0.4">54</text>
<text transform="translate(1477.55,1269.30) scale(0.9400,1)" font-size="17" font-weight="bold" text-anchor="middle" fill="#2a2a2a" stroke="#2a2a2a" stroke-width="0.55">900</text>
<text transform="translate(1518.75,1233.40) scale(0.7800,1)" font-size="17" text-anchor="middle" fill="#444" stroke="#444" stroke-width="0.4">60</text>
<text transform="translate(1518.75,1269.30) scale(0.9400,1)" font-size="17" font-weight="bold" text-anchor="middle" fill="#2a2a2a" stroke="#2a2a2a" stroke-width="0.55">1000</text>
<text transform="translate(1559.96,1233.40) scale(0.7800,1)" font-size="17" text-anchor="middle" fill="#444" stroke="#444" stroke-width="0.4">66</text>
<text transform="translate(1559.96,1269.30) scale(0.9400,1)" font-size="17" font-weight="bold" text-anchor="middle" fill="#2a2a2a" stroke="#2a2a2a" stroke-width="0.55">1100</text>
<text transform="translate(1601.16,1233.40) scale(0.7800,1)" font-size="17" text-anchor="middle" fill="#444" stroke="#444" stroke-width="0.4">72</text>
<text transform="translate(1601.16,1269.30) scale(0.9400,1)" font-size="17" font-weight="bold" text-anchor="middle" fill="#2a2a2a" stroke="#2a2a2a" stroke-width="0.55">1200</text>
<text transform="translate(1642.37,1233.40) scale(0.7800,1)" font-size="17" text-anchor="middle" fill="#444" stroke="#444" stroke-width="0.4">84</text>
<text transform="translate(1642.37,1269.30) scale(0.9400,1)" font-size="17" font-weight="bold" text-anchor="middle" fill="#2a2a2a" stroke="#2a2a2a" stroke-width="0.55">1400</text>
<text transform="translate(1683.57,1233.40) scale(0.7800,1)" font-size="17" text-anchor="middle" fill="#444" stroke="#444" stroke-width="0.4">96</text>
<text transform="translate(1683.57,1269.30) scale(0.9400,1)" font-size="17" font-weight="bold" text-anchor="middle" fill="#2a2a2a" stroke="#2a2a2a" stroke-width="0.55">1600</text>
<text transform="translate(1724.78,1233.40) scale(0.7800,1)" font-size="17" text-anchor="middle" fill="#444" stroke="#444" stroke-width="0.4">102</text>
<text transform="translate(1724.78,1269.30) scale(0.9400,1)" font-size="17" font-weight="bold" text-anchor="middle" fill="#2a2a2a" stroke="#2a2a2a" stroke-width="0.55">1700</text>
<text transform="translate(1765.99,1233.40) scale(0.7800,1)" font-size="17" text-anchor="middle" fill="#444" stroke="#444" stroke-width="0.4">108</text>
<text transform="translate(1765.99,1269.30) scale(0.9400,1)" font-size="17" font-weight="bold" text-anchor="middle" fill="#2a2a2a" stroke="#2a2a2a" stroke-width="0.55">1800</text>
<text transform="translate(1807.19,1233.40) scale(0.7800,1)" font-size="17" text-anchor="middle" fill="#444" stroke="#444" stroke-width="0.4">120</text>
<text transform="translate(1807.19,1269.30) scale(0.9400,1)" font-size="17" font-weight="bold" text-anchor="middle" fill="#2a2a2a" stroke="#2a2a2a" stroke-width="0.55">2000</text>
<text transform="translate(1848.40,1233.40) scale(0.7800,1)" font-size="17" text-anchor="middle" fill="#444" stroke="#444" stroke-width="0.4">132</text>
<text transform="translate(1848.40,1269.30) scale(0.9400,1)" font-size="17" font-weight="bold" text-anchor="middle" fill="#2a2a2a" stroke="#2a2a2a" stroke-width="0.55">2200</text>
<text transform="translate(538.10,1310.60) scale(1.1000,1)" font-size="19" font-weight="bold" text-anchor="start" fill="#2a2a2a" stroke="#2a2a2a" stroke-width="0.55">HFm 4</text>
<text transform="translate(689.60,1310.60) scale(1.1000,1)" font-size="19" font-weight="bold" text-anchor="start" fill="#2a2a2a" stroke="#2a2a2a" stroke-width="0.55">HF 4</text>
<text transform="translate(872.60,1310.60) scale(1.0300,1)" font-size="19" text-anchor="middle" fill="#333" stroke="#333" stroke-width="0.25">0,75</text>
<text transform="translate(951.50,1310.60) scale(1.0300,1)" font-size="19" text-anchor="middle" fill="#333" stroke="#333" stroke-width="0.25">1</text>
<text transform="translate(1147.90,1309.40) scale(0.7800,1)" font-size="17" text-anchor="middle" fill="#3a3a3a" stroke="#3a3a3a" stroke-width="0.4">10</text>
<text transform="translate(1189.11,1309.40) scale(0.7800,1)" font-size="17" text-anchor="middle" fill="#3a3a3a" stroke="#3a3a3a" stroke-width="0.4">9,3</text>
<text transform="translate(1230.31,1309.40) scale(0.7800,1)" font-size="17" text-anchor="middle" fill="#3a3a3a" stroke="#3a3a3a" stroke-width="0.4">8,7</text>
<text transform="translate(1271.52,1309.40) scale(0.7800,1)" font-size="17" text-anchor="middle" fill="#3a3a3a" stroke="#3a3a3a" stroke-width="0.4">8</text>
<text transform="translate(1312.72,1309.40) scale(0.7800,1)" font-size="17" text-anchor="middle" fill="#3a3a3a" stroke="#3a3a3a" stroke-width="0.4">7</text>
<text transform="translate(1353.93,1309.40) scale(0.7800,1)" font-size="17" text-anchor="middle" fill="#3a3a3a" stroke="#3a3a3a" stroke-width="0.4">6</text>
<text transform="translate(1395.14,1309.40) scale(0.7800,1)" font-size="17" text-anchor="middle" fill="#3a3a3a" stroke="#3a3a3a" stroke-width="0.4">4,7</text>
<text transform="translate(1436.34,1309.40) scale(0.7800,1)" font-size="17" text-anchor="middle" fill="#3a3a3a" stroke="#3a3a3a" stroke-width="0.4">3</text>
<text transform="translate(538.10,1353.80) scale(1.1000,1)" font-size="19" font-weight="bold" text-anchor="start" fill="#2a2a2a" stroke="#2a2a2a" stroke-width="0.55">HFm 6C</text>
<text transform="translate(689.60,1353.80) scale(1.1000,1)" font-size="19" font-weight="bold" text-anchor="start" fill="#2a2a2a" stroke="#2a2a2a" stroke-width="0.55">HF 6C</text>
<text transform="translate(872.60,1353.80) scale(1.0300,1)" font-size="19" text-anchor="middle" fill="#333" stroke="#333" stroke-width="0.25">1,1</text>
<text transform="translate(951.50,1353.80) scale(1.0300,1)" font-size="19" text-anchor="middle" fill="#333" stroke="#333" stroke-width="0.25">1,5</text>
<text transform="translate(1147.90,1352.60) scale(0.7800,1)" font-size="17" text-anchor="middle" fill="#3a3a3a" stroke="#3a3a3a" stroke-width="0.4">11,9</text>
<text transform="translate(1189.11,1352.60) scale(0.7800,1)" font-size="17" text-anchor="middle" fill="#3a3a3a" stroke="#3a3a3a" stroke-width="0.4">11,7</text>
<text transform="translate(1230.31,1352.60) scale(0.7800,1)" font-size="17" text-anchor="middle" fill="#3a3a3a" stroke="#3a3a3a" stroke-width="0.4">11,3</text>
<text transform="translate(1271.52,1352.60) scale(0.7800,1)" font-size="17" text-anchor="middle" fill="#3a3a3a" stroke="#3a3a3a" stroke-width="0.4">10,7</text>
<text transform="translate(1312.72,1352.60) scale(0.7800,1)" font-size="17" text-anchor="middle" fill="#3a3a3a" stroke="#3a3a3a" stroke-width="0.4">10,2</text>
<text transform="translate(1353.93,1352.60) scale(0.7800,1)" font-size="17" text-anchor="middle" fill="#3a3a3a" stroke="#3a3a3a" stroke-width="0.4">9,2</text>
<text transform="translate(1395.14,1352.60) scale(0.7800,1)" font-size="17" text-anchor="middle" fill="#3a3a3a" stroke="#3a3a3a" stroke-width="0.4">8</text>
<text transform="translate(1436.34,1352.60) scale(0.7800,1)" font-size="17" text-anchor="middle" fill="#3a3a3a" stroke="#3a3a3a" stroke-width="0.4">6,7</text>
<text transform="translate(1477.55,1352.60) scale(0.7800,1)" font-size="17" text-anchor="middle" fill="#3a3a3a" stroke="#3a3a3a" stroke-width="0.4">5</text>
<text transform="translate(1518.75,1352.60) scale(0.7800,1)" font-size="17" text-anchor="middle" fill="#3a3a3a" stroke="#3a3a3a" stroke-width="0.4">3</text>
<text transform="translate(538.10,1397.00) scale(1.1000,1)" font-size="19" font-weight="bold" text-anchor="start" fill="#2a2a2a" stroke="#2a2a2a" stroke-width="0.55">HFm 6B</text>
<text transform="translate(689.60,1397.00) scale(1.1000,1)" font-size="19" font-weight="bold" text-anchor="start" fill="#2a2a2a" stroke="#2a2a2a" stroke-width="0.55">HF 6B</text>
<text transform="translate(872.60,1397.00) scale(1.0300,1)" font-size="19" text-anchor="middle" fill="#333" stroke="#333" stroke-width="0.25">1,5</text>
<text transform="translate(951.50,1397.00) scale(1.0300,1)" font-size="19" text-anchor="middle" fill="#333" stroke="#333" stroke-width="0.25">2</text>
<text transform="translate(1147.90,1395.80) scale(0.7800,1)" font-size="17" text-anchor="middle" fill="#3a3a3a" stroke="#3a3a3a" stroke-width="0.4">14,7</text>
<text transform="translate(1189.11,1395.80) scale(0.7800,1)" font-size="17" text-anchor="middle" fill="#3a3a3a" stroke="#3a3a3a" stroke-width="0.4">14,5</text>
<text transform="translate(1230.31,1395.80) scale(0.7800,1)" font-size="17" text-anchor="middle" fill="#3a3a3a" stroke="#3a3a3a" stroke-width="0.4">14</text>
<text transform="translate(1271.52,1395.80) scale(0.7800,1)" font-size="17" text-anchor="middle" fill="#3a3a3a" stroke="#3a3a3a" stroke-width="0.4">13,5</text>
<text transform="translate(1312.72,1395.80) scale(0.7800,1)" font-size="17" text-anchor="middle" fill="#3a3a3a" stroke="#3a3a3a" stroke-width="0.4">12,8</text>
<text transform="translate(1353.93,1395.80) scale(0.7800,1)" font-size="17" text-anchor="middle" fill="#3a3a3a" stroke="#3a3a3a" stroke-width="0.4">12</text>
<text transform="translate(1395.14,1395.80) scale(0.7800,1)" font-size="17" text-anchor="middle" fill="#3a3a3a" stroke="#3a3a3a" stroke-width="0.4">11</text>
<text transform="translate(1436.34,1395.80) scale(0.7800,1)" font-size="17" text-anchor="middle" fill="#3a3a3a" stroke="#3a3a3a" stroke-width="0.4">9,7</text>
<text transform="translate(1477.55,1395.80) scale(0.7800,1)" font-size="17" text-anchor="middle" fill="#3a3a3a" stroke="#3a3a3a" stroke-width="0.4">8,2</text>
<text transform="translate(1518.75,1395.80) scale(0.7800,1)" font-size="17" text-anchor="middle" fill="#3a3a3a" stroke="#3a3a3a" stroke-width="0.4">6,7</text>
<text transform="translate(1559.96,1395.80) scale(0.7800,1)" font-size="17" text-anchor="middle" fill="#3a3a3a" stroke="#3a3a3a" stroke-width="0.4">5</text>
<rect x="538.30" y="1431.80" width="9.60" height="3.00" fill="#2a2a2a"/>
<text transform="translate(689.60,1440.20) scale(1.1000,1)" font-size="19" font-weight="bold" text-anchor="start" fill="#2a2a2a" stroke="#2a2a2a" stroke-width="0.55">HF 6A</text>
<text transform="translate(872.60,1440.20) scale(1.0300,1)" font-size="19" text-anchor="middle" fill="#333" stroke="#333" stroke-width="0.25">2,2</text>
<text transform="translate(951.50,1440.20) scale(1.0300,1)" font-size="19" text-anchor="middle" fill="#333" stroke="#333" stroke-width="0.25">3</text>
<text transform="translate(1147.90,1439.00) scale(0.7800,1)" font-size="17" text-anchor="middle" fill="#3a3a3a" stroke="#3a3a3a" stroke-width="0.4">18,5</text>
<text transform="translate(1189.11,1439.00) scale(0.7800,1)" font-size="17" text-anchor="middle" fill="#3a3a3a" stroke="#3a3a3a" stroke-width="0.4">18,1</text>
<text transform="translate(1230.31,1439.00) scale(0.7800,1)" font-size="17" text-anchor="middle" fill="#3a3a3a" stroke="#3a3a3a" stroke-width="0.4">17,8</text>
<text transform="translate(1271.52,1439.00) scale(0.7800,1)" font-size="17" text-anchor="middle" fill="#3a3a3a" stroke="#3a3a3a" stroke-width="0.4">17,2</text>
<text transform="translate(1312.72,1439.00) scale(0.7800,1)" font-size="17" text-anchor="middle" fill="#3a3a3a" stroke="#3a3a3a" stroke-width="0.4">16,8</text>
<text transform="translate(1353.93,1439.00) scale(0.7800,1)" font-size="17" text-anchor="middle" fill="#3a3a3a" stroke="#3a3a3a" stroke-width="0.4">16</text>
<text transform="translate(1395.14,1439.00) scale(0.7800,1)" font-size="17" text-anchor="middle" fill="#3a3a3a" stroke="#3a3a3a" stroke-width="0.4">15</text>
<text transform="translate(1436.34,1439.00) scale(0.7800,1)" font-size="17" text-anchor="middle" fill="#3a3a3a" stroke="#3a3a3a" stroke-width="0.4">13,8</text>
<text transform="translate(1477.55,1439.00) scale(0.7800,1)" font-size="17" text-anchor="middle" fill="#3a3a3a" stroke="#3a3a3a" stroke-width="0.4">12,2</text>
<text transform="translate(1518.75,1439.00) scale(0.7800,1)" font-size="17" text-anchor="middle" fill="#3a3a3a" stroke="#3a3a3a" stroke-width="0.4">10,5</text>
<text transform="translate(1559.96,1439.00) scale(0.7800,1)" font-size="17" text-anchor="middle" fill="#3a3a3a" stroke="#3a3a3a" stroke-width="0.4">8,3</text>
<text transform="translate(1601.16,1439.00) scale(0.7800,1)" font-size="17" text-anchor="middle" fill="#3a3a3a" stroke="#3a3a3a" stroke-width="0.4">6</text>
<rect x="538.30" y="1475.00" width="9.60" height="3.00" fill="#2a2a2a"/>
<text transform="translate(689.60,1483.40) scale(1.1000,1)" font-size="19" font-weight="bold" text-anchor="start" fill="#2a2a2a" stroke="#2a2a2a" stroke-width="0.55">HF 8B</text>
<text transform="translate(872.60,1483.40) scale(1.0300,1)" font-size="19" text-anchor="middle" fill="#333" stroke="#333" stroke-width="0.25">3</text>
<text transform="translate(951.50,1483.40) scale(1.0300,1)" font-size="19" text-anchor="middle" fill="#333" stroke="#333" stroke-width="0.25">4</text>
<text transform="translate(1147.90,1482.20) scale(0.7800,1)" font-size="17" text-anchor="middle" fill="#3a3a3a" stroke="#3a3a3a" stroke-width="0.4">21,5</text>
<text transform="translate(1189.11,1482.20) scale(0.7800,1)" font-size="17" text-anchor="middle" fill="#3a3a3a" stroke="#3a3a3a" stroke-width="0.4">21</text>
<text transform="translate(1230.31,1482.20) scale(0.7800,1)" font-size="17" text-anchor="middle" fill="#3a3a3a" stroke="#3a3a3a" stroke-width="0.4">20,7</text>
<text transform="translate(1271.52,1482.20) scale(0.7800,1)" font-size="17" text-anchor="middle" fill="#3a3a3a" stroke="#3a3a3a" stroke-width="0.4">20</text>
<text transform="translate(1312.72,1482.20) scale(0.7800,1)" font-size="17" text-anchor="middle" fill="#3a3a3a" stroke="#3a3a3a" stroke-width="0.4">19,5</text>
<text transform="translate(1353.93,1482.20) scale(0.7800,1)" font-size="17" text-anchor="middle" fill="#3a3a3a" stroke="#3a3a3a" stroke-width="0.4">18,8</text>
<text transform="translate(1395.14,1482.20) scale(0.7800,1)" font-size="17" text-anchor="middle" fill="#3a3a3a" stroke="#3a3a3a" stroke-width="0.4">17,8</text>
<text transform="translate(1436.34,1482.20) scale(0.7800,1)" font-size="17" text-anchor="middle" fill="#3a3a3a" stroke="#3a3a3a" stroke-width="0.4">16,5</text>
<text transform="translate(1477.55,1482.20) scale(0.7800,1)" font-size="17" text-anchor="middle" fill="#3a3a3a" stroke="#3a3a3a" stroke-width="0.4">15</text>
<text transform="translate(1518.75,1482.20) scale(0.7800,1)" font-size="17" text-anchor="middle" fill="#3a3a3a" stroke="#3a3a3a" stroke-width="0.4">13,5</text>
<text transform="translate(1559.96,1482.20) scale(0.7800,1)" font-size="17" text-anchor="middle" fill="#3a3a3a" stroke="#3a3a3a" stroke-width="0.4">11,2</text>
<text transform="translate(1601.16,1482.20) scale(0.7800,1)" font-size="17" text-anchor="middle" fill="#3a3a3a" stroke="#3a3a3a" stroke-width="0.4">9</text>
<rect x="538.30" y="1518.20" width="9.60" height="3.00" fill="#2a2a2a"/>
<text transform="translate(689.60,1526.60) scale(1.1000,1)" font-size="19" font-weight="bold" text-anchor="start" fill="#2a2a2a" stroke="#2a2a2a" stroke-width="0.55">HF 8A</text>
<text transform="translate(872.60,1526.60) scale(1.0300,1)" font-size="19" text-anchor="middle" fill="#333" stroke="#333" stroke-width="0.25">4</text>
<text transform="translate(951.50,1526.60) scale(1.0300,1)" font-size="19" text-anchor="middle" fill="#333" stroke="#333" stroke-width="0.25">5,5</text>
<text transform="translate(1147.90,1525.40) scale(0.7800,1)" font-size="17" text-anchor="middle" fill="#3a3a3a" stroke="#3a3a3a" stroke-width="0.4">24,5</text>
<text transform="translate(1189.11,1525.40) scale(0.7800,1)" font-size="17" text-anchor="middle" fill="#3a3a3a" stroke="#3a3a3a" stroke-width="0.4">24</text>
<text transform="translate(1230.31,1525.40) scale(0.7800,1)" font-size="17" text-anchor="middle" fill="#3a3a3a" stroke="#3a3a3a" stroke-width="0.4">23,5</text>
<text transform="translate(1271.52,1525.40) scale(0.7800,1)" font-size="17" text-anchor="middle" fill="#3a3a3a" stroke="#3a3a3a" stroke-width="0.4">23</text>
<text transform="translate(1312.72,1525.40) scale(0.7800,1)" font-size="17" text-anchor="middle" fill="#3a3a3a" stroke="#3a3a3a" stroke-width="0.4">22,5</text>
<text transform="translate(1353.93,1525.40) scale(0.7800,1)" font-size="17" text-anchor="middle" fill="#3a3a3a" stroke="#3a3a3a" stroke-width="0.4">21,8</text>
<text transform="translate(1395.14,1525.40) scale(0.7800,1)" font-size="17" text-anchor="middle" fill="#3a3a3a" stroke="#3a3a3a" stroke-width="0.4">20,8</text>
<text transform="translate(1436.34,1525.40) scale(0.7800,1)" font-size="17" text-anchor="middle" fill="#3a3a3a" stroke="#3a3a3a" stroke-width="0.4">19,5</text>
<text transform="translate(1477.55,1525.40) scale(0.7800,1)" font-size="17" text-anchor="middle" fill="#3a3a3a" stroke="#3a3a3a" stroke-width="0.4">18,3</text>
<text transform="translate(1518.75,1525.40) scale(0.7800,1)" font-size="17" text-anchor="middle" fill="#3a3a3a" stroke="#3a3a3a" stroke-width="0.4">16,8</text>
<text transform="translate(1559.96,1525.40) scale(0.7800,1)" font-size="17" text-anchor="middle" fill="#3a3a3a" stroke="#3a3a3a" stroke-width="0.4">15</text>
<text transform="translate(1601.16,1525.40) scale(0.7800,1)" font-size="17" text-anchor="middle" fill="#3a3a3a" stroke="#3a3a3a" stroke-width="0.4">13</text>
<rect x="538.30" y="1561.40" width="9.60" height="3.00" fill="#2a2a2a"/>
<text transform="translate(689.60,1569.80) scale(1.1000,1)" font-size="19" font-weight="bold" text-anchor="start" fill="#2a2a2a" stroke="#2a2a2a" stroke-width="0.55">HF 20B-N</text>
<text transform="translate(872.60,1569.80) scale(1.0300,1)" font-size="19" text-anchor="middle" fill="#333" stroke="#333" stroke-width="0.25">3</text>
<text transform="translate(951.50,1569.80) scale(1.0300,1)" font-size="19" text-anchor="middle" fill="#333" stroke="#333" stroke-width="0.25">4</text>
<text transform="translate(1147.90,1568.60) scale(0.7800,1)" font-size="17" text-anchor="middle" fill="#3a3a3a" stroke="#3a3a3a" stroke-width="0.4">19</text>
<text transform="translate(1189.11,1568.60) scale(0.7800,1)" font-size="17" text-anchor="middle" fill="#3a3a3a" stroke="#3a3a3a" stroke-width="0.4">-</text>
<text transform="translate(1230.31,1568.60) scale(0.7800,1)" font-size="17" text-anchor="middle" fill="#3a3a3a" stroke="#3a3a3a" stroke-width="0.4">-</text>
<text transform="translate(1271.52,1568.60) scale(0.7800,1)" font-size="17" text-anchor="middle" fill="#3a3a3a" stroke="#3a3a3a" stroke-width="0.4">19</text>
<text transform="translate(1312.72,1568.60) scale(0.7800,1)" font-size="17" text-anchor="middle" fill="#3a3a3a" stroke="#3a3a3a" stroke-width="0.4">18,8</text>
<text transform="translate(1353.93,1568.60) scale(0.7800,1)" font-size="17" text-anchor="middle" fill="#3a3a3a" stroke="#3a3a3a" stroke-width="0.4">18,5</text>
<text transform="translate(1395.14,1568.60) scale(0.7800,1)" font-size="17" text-anchor="middle" fill="#3a3a3a" stroke="#3a3a3a" stroke-width="0.4">18</text>
<text transform="translate(1436.34,1568.60) scale(0.7800,1)" font-size="17" text-anchor="middle" fill="#3a3a3a" stroke="#3a3a3a" stroke-width="0.4">17,5</text>
<text transform="translate(1477.55,1568.60) scale(0.7800,1)" font-size="17" text-anchor="middle" fill="#3a3a3a" stroke="#3a3a3a" stroke-width="0.4">16,8</text>
<text transform="translate(1518.75,1568.60) scale(0.7800,1)" font-size="17" text-anchor="middle" fill="#3a3a3a" stroke="#3a3a3a" stroke-width="0.4">16</text>
<text transform="translate(1559.96,1568.60) scale(0.7800,1)" font-size="17" text-anchor="middle" fill="#3a3a3a" stroke="#3a3a3a" stroke-width="0.4">14,5</text>
<text transform="translate(1601.16,1568.60) scale(0.7800,1)" font-size="17" text-anchor="middle" fill="#3a3a3a" stroke="#3a3a3a" stroke-width="0.4">13,5</text>
<text transform="translate(1642.37,1568.60) scale(0.7800,1)" font-size="17" text-anchor="middle" fill="#3a3a3a" stroke="#3a3a3a" stroke-width="0.4">11</text>
<text transform="translate(1683.57,1568.60) scale(0.7800,1)" font-size="17" text-anchor="middle" fill="#3a3a3a" stroke="#3a3a3a" stroke-width="0.4">8</text>
<rect x="538.30" y="1604.60" width="9.60" height="3.00" fill="#2a2a2a"/>
<text transform="translate(689.60,1613.00) scale(1.1000,1)" font-size="19" font-weight="bold" text-anchor="start" fill="#2a2a2a" stroke="#2a2a2a" stroke-width="0.55">HF 20A-N</text>
<text transform="translate(872.60,1613.00) scale(1.0300,1)" font-size="19" text-anchor="middle" fill="#333" stroke="#333" stroke-width="0.25">4</text>
<text transform="translate(951.50,1613.00) scale(1.0300,1)" font-size="19" text-anchor="middle" fill="#333" stroke="#333" stroke-width="0.25">5,5</text>
<text transform="translate(1147.90,1611.80) scale(0.7800,1)" font-size="17" text-anchor="middle" fill="#3a3a3a" stroke="#3a3a3a" stroke-width="0.4">21,5</text>
<text transform="translate(1189.11,1611.80) scale(0.7800,1)" font-size="17" text-anchor="middle" fill="#3a3a3a" stroke="#3a3a3a" stroke-width="0.4">-</text>
<text transform="translate(1230.31,1611.80) scale(0.7800,1)" font-size="17" text-anchor="middle" fill="#3a3a3a" stroke="#3a3a3a" stroke-width="0.4">-</text>
<text transform="translate(1271.52,1611.80) scale(0.7800,1)" font-size="17" text-anchor="middle" fill="#3a3a3a" stroke="#3a3a3a" stroke-width="0.4">21,5</text>
<text transform="translate(1312.72,1611.80) scale(0.7800,1)" font-size="17" text-anchor="middle" fill="#3a3a3a" stroke="#3a3a3a" stroke-width="0.4">21,3</text>
<text transform="translate(1353.93,1611.80) scale(0.7800,1)" font-size="17" text-anchor="middle" fill="#3a3a3a" stroke="#3a3a3a" stroke-width="0.4">21</text>
<text transform="translate(1395.14,1611.80) scale(0.7800,1)" font-size="17" text-anchor="middle" fill="#3a3a3a" stroke="#3a3a3a" stroke-width="0.4">20,5</text>
<text transform="translate(1436.34,1611.80) scale(0.7800,1)" font-size="17" text-anchor="middle" fill="#3a3a3a" stroke="#3a3a3a" stroke-width="0.4">19,8</text>
<text transform="translate(1477.55,1611.80) scale(0.7800,1)" font-size="17" text-anchor="middle" fill="#3a3a3a" stroke="#3a3a3a" stroke-width="0.4">19</text>
<text transform="translate(1518.75,1611.80) scale(0.7800,1)" font-size="17" text-anchor="middle" fill="#3a3a3a" stroke="#3a3a3a" stroke-width="0.4">18</text>
<text transform="translate(1559.96,1611.80) scale(0.7800,1)" font-size="17" text-anchor="middle" fill="#3a3a3a" stroke="#3a3a3a" stroke-width="0.4">17</text>
<text transform="translate(1601.16,1611.80) scale(0.7800,1)" font-size="17" text-anchor="middle" fill="#3a3a3a" stroke="#3a3a3a" stroke-width="0.4">16</text>
<text transform="translate(1642.37,1611.80) scale(0.7800,1)" font-size="17" text-anchor="middle" fill="#3a3a3a" stroke="#3a3a3a" stroke-width="0.4">13,3</text>
<text transform="translate(1683.57,1611.80) scale(0.7800,1)" font-size="17" text-anchor="middle" fill="#3a3a3a" stroke="#3a3a3a" stroke-width="0.4">10</text>
<text transform="translate(1724.78,1611.80) scale(0.7800,1)" font-size="17" text-anchor="middle" fill="#3a3a3a" stroke="#3a3a3a" stroke-width="0.4">8</text>
<text transform="translate(1765.99,1611.80) scale(0.7800,1)" font-size="17" text-anchor="middle" fill="#3a3a3a" stroke="#3a3a3a" stroke-width="0.4">6</text>
<rect x="538.30" y="1647.80" width="9.60" height="3.00" fill="#2a2a2a"/>
<text transform="translate(689.60,1656.20) scale(1.1000,1)" font-size="19" font-weight="bold" text-anchor="start" fill="#2a2a2a" stroke="#2a2a2a" stroke-width="0.55">HF 30B</text>
<text transform="translate(872.60,1656.20) scale(1.0300,1)" font-size="19" text-anchor="middle" fill="#333" stroke="#333" stroke-width="0.25">5,5</text>
<text transform="translate(951.50,1656.20) scale(1.0300,1)" font-size="19" text-anchor="middle" fill="#333" stroke="#333" stroke-width="0.25">7,5</text>
<text transform="translate(1147.90,1655.00) scale(0.7800,1)" font-size="17" text-anchor="middle" fill="#3a3a3a" stroke="#3a3a3a" stroke-width="0.4">18</text>
<text transform="translate(1189.11,1655.00) scale(0.7800,1)" font-size="17" text-anchor="middle" fill="#3a3a3a" stroke="#3a3a3a" stroke-width="0.4">-</text>
<text transform="translate(1230.31,1655.00) scale(0.7800,1)" font-size="17" text-anchor="middle" fill="#3a3a3a" stroke="#3a3a3a" stroke-width="0.4">-</text>
<text transform="translate(1271.52,1655.00) scale(0.7800,1)" font-size="17" text-anchor="middle" fill="#3a3a3a" stroke="#3a3a3a" stroke-width="0.4">-</text>
<text transform="translate(1312.72,1655.00) scale(0.7800,1)" font-size="17" text-anchor="middle" fill="#3a3a3a" stroke="#3a3a3a" stroke-width="0.4">-</text>
<text transform="translate(1353.93,1655.00) scale(0.7800,1)" font-size="17" text-anchor="middle" fill="#3a3a3a" stroke="#3a3a3a" stroke-width="0.4">18</text>
<text transform="translate(1395.14,1655.00) scale(0.7800,1)" font-size="17" text-anchor="middle" fill="#3a3a3a" stroke="#3a3a3a" stroke-width="0.4">18</text>
<text transform="translate(1436.34,1655.00) scale(0.7800,1)" font-size="17" text-anchor="middle" fill="#3a3a3a" stroke="#3a3a3a" stroke-width="0.4">18</text>
<text transform="translate(1477.55,1655.00) scale(0.7800,1)" font-size="17" text-anchor="middle" fill="#3a3a3a" stroke="#3a3a3a" stroke-width="0.4">18</text>
<text transform="translate(1518.75,1655.00) scale(0.7800,1)" font-size="17" text-anchor="middle" fill="#3a3a3a" stroke="#3a3a3a" stroke-width="0.4">18</text>
<text transform="translate(1559.96,1655.00) scale(0.7800,1)" font-size="17" text-anchor="middle" fill="#3a3a3a" stroke="#3a3a3a" stroke-width="0.4">17,5</text>
<text transform="translate(1601.16,1655.00) scale(0.7800,1)" font-size="17" text-anchor="middle" fill="#3a3a3a" stroke="#3a3a3a" stroke-width="0.4">17</text>
<text transform="translate(1642.37,1655.00) scale(0.7800,1)" font-size="17" text-anchor="middle" fill="#3a3a3a" stroke="#3a3a3a" stroke-width="0.4">16,5</text>
<text transform="translate(1683.57,1655.00) scale(0.7800,1)" font-size="17" text-anchor="middle" fill="#3a3a3a" stroke="#3a3a3a" stroke-width="0.4">15,5</text>
<text transform="translate(1724.78,1655.00) scale(0.7800,1)" font-size="17" text-anchor="middle" fill="#3a3a3a" stroke="#3a3a3a" stroke-width="0.4">15</text>
<text transform="translate(1765.99,1655.00) scale(0.7800,1)" font-size="17" text-anchor="middle" fill="#3a3a3a" stroke="#3a3a3a" stroke-width="0.4">14,5</text>
<text transform="translate(1807.19,1655.00) scale(0.7800,1)" font-size="17" text-anchor="middle" fill="#3a3a3a" stroke="#3a3a3a" stroke-width="0.4">13</text>
<rect x="538.30" y="1691.00" width="9.60" height="3.00" fill="#2a2a2a"/>
<text transform="translate(689.60,1699.40) scale(1.1000,1)" font-size="19" font-weight="bold" text-anchor="start" fill="#2a2a2a" stroke="#2a2a2a" stroke-width="0.55">HF 30A</text>
<text transform="translate(872.60,1699.40) scale(1.0300,1)" font-size="19" text-anchor="middle" fill="#333" stroke="#333" stroke-width="0.25">7,5</text>
<text transform="translate(951.50,1699.40) scale(1.0300,1)" font-size="19" text-anchor="middle" fill="#333" stroke="#333" stroke-width="0.25">10</text>
<text transform="translate(1147.90,1698.20) scale(0.7800,1)" font-size="17" text-anchor="middle" fill="#3a3a3a" stroke="#3a3a3a" stroke-width="0.4">23</text>
<text transform="translate(1189.11,1698.20) scale(0.7800,1)" font-size="17" text-anchor="middle" fill="#3a3a3a" stroke="#3a3a3a" stroke-width="0.4">-</text>
<text transform="translate(1230.31,1698.20) scale(0.7800,1)" font-size="17" text-anchor="middle" fill="#3a3a3a" stroke="#3a3a3a" stroke-width="0.4">-</text>
<text transform="translate(1271.52,1698.20) scale(0.7800,1)" font-size="17" text-anchor="middle" fill="#3a3a3a" stroke="#3a3a3a" stroke-width="0.4">-</text>
<text transform="translate(1312.72,1698.20) scale(0.7800,1)" font-size="17" text-anchor="middle" fill="#3a3a3a" stroke="#3a3a3a" stroke-width="0.4">-</text>
<text transform="translate(1353.93,1698.20) scale(0.7800,1)" font-size="17" text-anchor="middle" fill="#3a3a3a" stroke="#3a3a3a" stroke-width="0.4">23</text>
<text transform="translate(1395.14,1698.20) scale(0.7800,1)" font-size="17" text-anchor="middle" fill="#3a3a3a" stroke="#3a3a3a" stroke-width="0.4">23</text>
<text transform="translate(1436.34,1698.20) scale(0.7800,1)" font-size="17" text-anchor="middle" fill="#3a3a3a" stroke="#3a3a3a" stroke-width="0.4">23</text>
<text transform="translate(1477.55,1698.20) scale(0.7800,1)" font-size="17" text-anchor="middle" fill="#3a3a3a" stroke="#3a3a3a" stroke-width="0.4">23</text>
<text transform="translate(1518.75,1698.20) scale(0.7800,1)" font-size="17" text-anchor="middle" fill="#3a3a3a" stroke="#3a3a3a" stroke-width="0.4">23</text>
<text transform="translate(1559.96,1698.20) scale(0.7800,1)" font-size="17" text-anchor="middle" fill="#3a3a3a" stroke="#3a3a3a" stroke-width="0.4">22,5</text>
<text transform="translate(1601.16,1698.20) scale(0.7800,1)" font-size="17" text-anchor="middle" fill="#3a3a3a" stroke="#3a3a3a" stroke-width="0.4">22,5</text>
<text transform="translate(1642.37,1698.20) scale(0.7800,1)" font-size="17" text-anchor="middle" fill="#3a3a3a" stroke="#3a3a3a" stroke-width="0.4">22,5</text>
<text transform="translate(1683.57,1698.20) scale(0.7800,1)" font-size="17" text-anchor="middle" fill="#3a3a3a" stroke="#3a3a3a" stroke-width="0.4">22</text>
<text transform="translate(1724.78,1698.20) scale(0.7800,1)" font-size="17" text-anchor="middle" fill="#3a3a3a" stroke="#3a3a3a" stroke-width="0.4">21,5</text>
<text transform="translate(1765.99,1698.20) scale(0.7800,1)" font-size="17" text-anchor="middle" fill="#3a3a3a" stroke="#3a3a3a" stroke-width="0.4">21</text>
<text transform="translate(1807.19,1698.20) scale(0.7800,1)" font-size="17" text-anchor="middle" fill="#3a3a3a" stroke="#3a3a3a" stroke-width="0.4">19,5</text>
<text transform="translate(1848.40,1698.20) scale(0.7800,1)" font-size="17" text-anchor="middle" fill="#3a3a3a" stroke="#3a3a3a" stroke-width="0.4">18</text>
<text transform="translate(1012.00,1310.60) scale(0.9200,1)" font-size="19" text-anchor="middle" fill="#333" stroke="#333" stroke-width="0.25">IE2</text>
<text transform="translate(1012.00,1353.80) scale(0.9200,1)" font-size="19" text-anchor="middle" fill="#333" stroke="#333" stroke-width="0.25">IE2</text>
<text transform="translate(1012.00,1418.40) scale(1.0800,1)" font-size="19" font-weight="bold" text-anchor="middle" fill="#2a2a2a" stroke="#2a2a2a" stroke-width="0.55">IE3</text>
<text transform="translate(1012.00,1504.80) scale(1.0800,1)" font-size="19" font-weight="bold" text-anchor="middle" fill="#2a2a2a" stroke="#2a2a2a" stroke-width="0.55">IE3</text>
<text transform="translate(1012.00,1591.20) scale(1.0800,1)" font-size="19" font-weight="bold" text-anchor="middle" fill="#2a2a2a" stroke="#2a2a2a" stroke-width="0.55">IE3</text>
<text transform="translate(1012.00,1677.60) scale(1.0800,1)" font-size="19" font-weight="bold" text-anchor="middle" fill="#2a2a2a" stroke="#2a2a2a" stroke-width="0.55">IE3</text>
<text transform="translate(530.60,1741.00) scale(1.0424,1)" font-size="14.8" font-weight="bold" text-anchor="start" fill="#333" stroke="#333" stroke-width="0.55">Q</text>
<text transform="translate(548.70,1741.00) scale(1.1520,1)" font-size="14.8" text-anchor="start" fill="#4a4a4a" stroke="#4a4a4a" stroke-width="0.25">- Производительность</text>
<text transform="translate(736.70,1741.00) scale(1.0385,1)" font-size="14.8" font-weight="bold" text-anchor="start" fill="#333" stroke="#333" stroke-width="0.55">H</text>
<text transform="translate(753.90,1741.00) scale(1.1453,1)" font-size="14.8" text-anchor="start" fill="#4a4a4a" stroke="#4a4a4a" stroke-width="0.25">- Общий манометрический напор</text>
<text transform="translate(1030.00,1741.00) scale(1.0214,1)" font-size="14.8" font-weight="bold" text-anchor="start" fill="#333" stroke="#333" stroke-width="0.55">HS</text>
<text transform="translate(1057.10,1741.00) scale(1.0911,1)" font-size="14.8" text-anchor="start" fill="#4a4a4a" stroke="#4a4a4a" stroke-width="0.25">- Высота всасывания</text>
<text transform="translate(530.60,1769.70) scale(1.1306,1)" font-size="14.8" text-anchor="start" fill="#4a4a4a" stroke="#4a4a4a" stroke-width="0.25">Допустимое отклонение характеристик насосов соответствует классу 3B согласно EN ISO 9906.</text>
<text transform="translate(2373.00,1959.50) scale(1.0597,1)" font-size="6.5" text-anchor="start" fill="#c4c4c4" stroke="#c4c4c4" stroke-width="0.25">Винкор</text>
</g></g></g>
</svg>
</body></html>
